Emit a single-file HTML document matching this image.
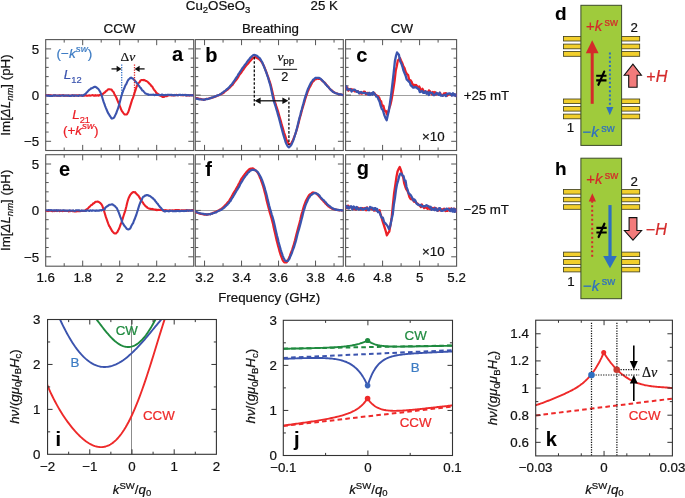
<!DOCTYPE html>
<html><head><meta charset="utf-8"><style>
html,body{margin:0;padding:0;background:#fff;}
body{width:685px;height:498px;overflow:hidden;}
svg{display:block;-webkit-font-smoothing:antialiased;will-change:transform;}
</style></head><body>
<svg width="685" height="498" viewBox="0 0 685 498">
<rect width="685" height="498" fill="#fff"/>
<path d="M45.7 95.5 H193.7" stroke="#a0a0a0" stroke-width="1"/>
<path d="M82.7 150.5 v-5.6 M82.7 39.6 v5.6" stroke="#555" stroke-width="1"/>
<path d="M119.7 150.5 v-5.6 M119.7 39.6 v5.6" stroke="#555" stroke-width="1"/>
<path d="M156.7 150.5 v-5.6 M156.7 39.6 v5.6" stroke="#555" stroke-width="1"/>
<path d="M64.2 150.5 v-3 M64.2 39.6 v3" stroke="#555" stroke-width="1"/>
<path d="M101.2 150.5 v-3 M101.2 39.6 v3" stroke="#555" stroke-width="1"/>
<path d="M138.2 150.5 v-3 M138.2 39.6 v3" stroke="#555" stroke-width="1"/>
<path d="M175.2 150.5 v-3 M175.2 39.6 v3" stroke="#555" stroke-width="1"/>
<path d="M45.7 48.9 h5.4 M193.7 48.9 h-5.4" stroke="#555" stroke-width="1"/>
<path d="M45.7 95.1 h5.4 M193.7 95.1 h-5.4" stroke="#555" stroke-width="1"/>
<path d="M45.7 141.3 h5.4 M193.7 141.3 h-5.4" stroke="#555" stroke-width="1"/>
<path d="M45.7 132.06 h3 M193.7 132.06 h-3" stroke="#555" stroke-width="1"/>
<path d="M45.7 122.82 h3 M193.7 122.82 h-3" stroke="#555" stroke-width="1"/>
<path d="M45.7 113.58 h3 M193.7 113.58 h-3" stroke="#555" stroke-width="1"/>
<path d="M45.7 104.34 h3 M193.7 104.34 h-3" stroke="#555" stroke-width="1"/>
<path d="M45.7 85.86 h3 M193.7 85.86 h-3" stroke="#555" stroke-width="1"/>
<path d="M45.7 76.62 h3 M193.7 76.62 h-3" stroke="#555" stroke-width="1"/>
<path d="M45.7 67.38 h3 M193.7 67.38 h-3" stroke="#555" stroke-width="1"/>
<path d="M45.7 58.14 h3 M193.7 58.14 h-3" stroke="#555" stroke-width="1"/>
<rect x="45.7" y="39.6" width="148" height="110.9" fill="none" stroke="#555" stroke-width="1.1"/>
<path d="M195.3 95.5 H343.3" stroke="#a0a0a0" stroke-width="1"/>
<path d="M204.55 150.5 v-5.6 M204.55 39.6 v5.6" stroke="#555" stroke-width="1"/>
<path d="M241.55 150.5 v-5.6 M241.55 39.6 v5.6" stroke="#555" stroke-width="1"/>
<path d="M278.55 150.5 v-5.6 M278.55 39.6 v5.6" stroke="#555" stroke-width="1"/>
<path d="M315.55 150.5 v-5.6 M315.55 39.6 v5.6" stroke="#555" stroke-width="1"/>
<path d="M223.05 150.5 v-3 M223.05 39.6 v3" stroke="#555" stroke-width="1"/>
<path d="M260.05 150.5 v-3 M260.05 39.6 v3" stroke="#555" stroke-width="1"/>
<path d="M297.05 150.5 v-3 M297.05 39.6 v3" stroke="#555" stroke-width="1"/>
<path d="M334.05 150.5 v-3 M334.05 39.6 v3" stroke="#555" stroke-width="1"/>
<path d="M195.3 48.9 h5.4 M343.3 48.9 h-5.4" stroke="#555" stroke-width="1"/>
<path d="M195.3 95.1 h5.4 M343.3 95.1 h-5.4" stroke="#555" stroke-width="1"/>
<path d="M195.3 141.3 h5.4 M343.3 141.3 h-5.4" stroke="#555" stroke-width="1"/>
<path d="M195.3 132.06 h3 M343.3 132.06 h-3" stroke="#555" stroke-width="1"/>
<path d="M195.3 122.82 h3 M343.3 122.82 h-3" stroke="#555" stroke-width="1"/>
<path d="M195.3 113.58 h3 M343.3 113.58 h-3" stroke="#555" stroke-width="1"/>
<path d="M195.3 104.34 h3 M343.3 104.34 h-3" stroke="#555" stroke-width="1"/>
<path d="M195.3 85.86 h3 M343.3 85.86 h-3" stroke="#555" stroke-width="1"/>
<path d="M195.3 76.62 h3 M343.3 76.62 h-3" stroke="#555" stroke-width="1"/>
<path d="M195.3 67.38 h3 M343.3 67.38 h-3" stroke="#555" stroke-width="1"/>
<path d="M195.3 58.14 h3 M343.3 58.14 h-3" stroke="#555" stroke-width="1"/>
<rect x="195.3" y="39.6" width="148" height="110.9" fill="none" stroke="#555" stroke-width="1.1"/>
<path d="M345.6 95.5 H456.6" stroke="#a0a0a0" stroke-width="1"/>
<path d="M382.6 150.5 v-5.6 M382.6 39.6 v5.6" stroke="#555" stroke-width="1"/>
<path d="M419.6 150.5 v-5.6 M419.6 39.6 v5.6" stroke="#555" stroke-width="1"/>
<path d="M364.1 150.5 v-3 M364.1 39.6 v3" stroke="#555" stroke-width="1"/>
<path d="M401.1 150.5 v-3 M401.1 39.6 v3" stroke="#555" stroke-width="1"/>
<path d="M438.1 150.5 v-3 M438.1 39.6 v3" stroke="#555" stroke-width="1"/>
<path d="M345.6 48.9 h5.4 M456.6 48.9 h-5.4" stroke="#555" stroke-width="1"/>
<path d="M345.6 95.1 h5.4 M456.6 95.1 h-5.4" stroke="#555" stroke-width="1"/>
<path d="M345.6 141.3 h5.4 M456.6 141.3 h-5.4" stroke="#555" stroke-width="1"/>
<path d="M345.6 132.06 h3 M456.6 132.06 h-3" stroke="#555" stroke-width="1"/>
<path d="M345.6 122.82 h3 M456.6 122.82 h-3" stroke="#555" stroke-width="1"/>
<path d="M345.6 113.58 h3 M456.6 113.58 h-3" stroke="#555" stroke-width="1"/>
<path d="M345.6 104.34 h3 M456.6 104.34 h-3" stroke="#555" stroke-width="1"/>
<path d="M345.6 85.86 h3 M456.6 85.86 h-3" stroke="#555" stroke-width="1"/>
<path d="M345.6 76.62 h3 M456.6 76.62 h-3" stroke="#555" stroke-width="1"/>
<path d="M345.6 67.38 h3 M456.6 67.38 h-3" stroke="#555" stroke-width="1"/>
<path d="M345.6 58.14 h3 M456.6 58.14 h-3" stroke="#555" stroke-width="1"/>
<rect x="345.6" y="39.6" width="111" height="110.9" fill="none" stroke="#555" stroke-width="1.1"/>
<path d="M45.7 210.5 H193.7" stroke="#a0a0a0" stroke-width="1"/>
<path d="M82.7 266.2 v-5.6 M82.7 154.7 v5.6" stroke="#555" stroke-width="1"/>
<path d="M119.7 266.2 v-5.6 M119.7 154.7 v5.6" stroke="#555" stroke-width="1"/>
<path d="M156.7 266.2 v-5.6 M156.7 154.7 v5.6" stroke="#555" stroke-width="1"/>
<path d="M64.2 266.2 v-3 M64.2 154.7 v3" stroke="#555" stroke-width="1"/>
<path d="M101.2 266.2 v-3 M101.2 154.7 v3" stroke="#555" stroke-width="1"/>
<path d="M138.2 266.2 v-3 M138.2 154.7 v3" stroke="#555" stroke-width="1"/>
<path d="M175.2 266.2 v-3 M175.2 154.7 v3" stroke="#555" stroke-width="1"/>
<path d="M45.7 164 h5.4 M193.7 164 h-5.4" stroke="#555" stroke-width="1"/>
<path d="M45.7 210.4 h5.4 M193.7 210.4 h-5.4" stroke="#555" stroke-width="1"/>
<path d="M45.7 256.8 h5.4 M193.7 256.8 h-5.4" stroke="#555" stroke-width="1"/>
<path d="M45.7 247.52 h3 M193.7 247.52 h-3" stroke="#555" stroke-width="1"/>
<path d="M45.7 238.24 h3 M193.7 238.24 h-3" stroke="#555" stroke-width="1"/>
<path d="M45.7 228.96 h3 M193.7 228.96 h-3" stroke="#555" stroke-width="1"/>
<path d="M45.7 219.68 h3 M193.7 219.68 h-3" stroke="#555" stroke-width="1"/>
<path d="M45.7 201.12 h3 M193.7 201.12 h-3" stroke="#555" stroke-width="1"/>
<path d="M45.7 191.84 h3 M193.7 191.84 h-3" stroke="#555" stroke-width="1"/>
<path d="M45.7 182.56 h3 M193.7 182.56 h-3" stroke="#555" stroke-width="1"/>
<path d="M45.7 173.28 h3 M193.7 173.28 h-3" stroke="#555" stroke-width="1"/>
<rect x="45.7" y="154.7" width="148" height="111.5" fill="none" stroke="#555" stroke-width="1.1"/>
<path d="M195.3 210.5 H343.3" stroke="#a0a0a0" stroke-width="1"/>
<path d="M204.55 266.2 v-5.6 M204.55 154.7 v5.6" stroke="#555" stroke-width="1"/>
<path d="M241.55 266.2 v-5.6 M241.55 154.7 v5.6" stroke="#555" stroke-width="1"/>
<path d="M278.55 266.2 v-5.6 M278.55 154.7 v5.6" stroke="#555" stroke-width="1"/>
<path d="M315.55 266.2 v-5.6 M315.55 154.7 v5.6" stroke="#555" stroke-width="1"/>
<path d="M223.05 266.2 v-3 M223.05 154.7 v3" stroke="#555" stroke-width="1"/>
<path d="M260.05 266.2 v-3 M260.05 154.7 v3" stroke="#555" stroke-width="1"/>
<path d="M297.05 266.2 v-3 M297.05 154.7 v3" stroke="#555" stroke-width="1"/>
<path d="M334.05 266.2 v-3 M334.05 154.7 v3" stroke="#555" stroke-width="1"/>
<path d="M195.3 164 h5.4 M343.3 164 h-5.4" stroke="#555" stroke-width="1"/>
<path d="M195.3 210.4 h5.4 M343.3 210.4 h-5.4" stroke="#555" stroke-width="1"/>
<path d="M195.3 256.8 h5.4 M343.3 256.8 h-5.4" stroke="#555" stroke-width="1"/>
<path d="M195.3 247.52 h3 M343.3 247.52 h-3" stroke="#555" stroke-width="1"/>
<path d="M195.3 238.24 h3 M343.3 238.24 h-3" stroke="#555" stroke-width="1"/>
<path d="M195.3 228.96 h3 M343.3 228.96 h-3" stroke="#555" stroke-width="1"/>
<path d="M195.3 219.68 h3 M343.3 219.68 h-3" stroke="#555" stroke-width="1"/>
<path d="M195.3 201.12 h3 M343.3 201.12 h-3" stroke="#555" stroke-width="1"/>
<path d="M195.3 191.84 h3 M343.3 191.84 h-3" stroke="#555" stroke-width="1"/>
<path d="M195.3 182.56 h3 M343.3 182.56 h-3" stroke="#555" stroke-width="1"/>
<path d="M195.3 173.28 h3 M343.3 173.28 h-3" stroke="#555" stroke-width="1"/>
<rect x="195.3" y="154.7" width="148" height="111.5" fill="none" stroke="#555" stroke-width="1.1"/>
<path d="M345.6 210.5 H456.6" stroke="#a0a0a0" stroke-width="1"/>
<path d="M382.6 266.2 v-5.6 M382.6 154.7 v5.6" stroke="#555" stroke-width="1"/>
<path d="M419.6 266.2 v-5.6 M419.6 154.7 v5.6" stroke="#555" stroke-width="1"/>
<path d="M364.1 266.2 v-3 M364.1 154.7 v3" stroke="#555" stroke-width="1"/>
<path d="M401.1 266.2 v-3 M401.1 154.7 v3" stroke="#555" stroke-width="1"/>
<path d="M438.1 266.2 v-3 M438.1 154.7 v3" stroke="#555" stroke-width="1"/>
<path d="M345.6 164 h5.4 M456.6 164 h-5.4" stroke="#555" stroke-width="1"/>
<path d="M345.6 210.4 h5.4 M456.6 210.4 h-5.4" stroke="#555" stroke-width="1"/>
<path d="M345.6 256.8 h5.4 M456.6 256.8 h-5.4" stroke="#555" stroke-width="1"/>
<path d="M345.6 247.52 h3 M456.6 247.52 h-3" stroke="#555" stroke-width="1"/>
<path d="M345.6 238.24 h3 M456.6 238.24 h-3" stroke="#555" stroke-width="1"/>
<path d="M345.6 228.96 h3 M456.6 228.96 h-3" stroke="#555" stroke-width="1"/>
<path d="M345.6 219.68 h3 M456.6 219.68 h-3" stroke="#555" stroke-width="1"/>
<path d="M345.6 201.12 h3 M456.6 201.12 h-3" stroke="#555" stroke-width="1"/>
<path d="M345.6 191.84 h3 M456.6 191.84 h-3" stroke="#555" stroke-width="1"/>
<path d="M345.6 182.56 h3 M456.6 182.56 h-3" stroke="#555" stroke-width="1"/>
<path d="M345.6 173.28 h3 M456.6 173.28 h-3" stroke="#555" stroke-width="1"/>
<rect x="345.6" y="154.7" width="111" height="111.5" fill="none" stroke="#555" stroke-width="1.1"/>
<defs>
<clipPath id="ca"><rect x="45.7" y="39.6" width="148" height="110.9"/></clipPath>
<clipPath id="cb"><rect x="195.3" y="39.6" width="148" height="110.9"/></clipPath>
<clipPath id="cc"><rect x="345.6" y="39.6" width="111" height="110.9"/></clipPath>
<clipPath id="ce"><rect x="45.7" y="154.7" width="148" height="111.5"/></clipPath>
<clipPath id="cf"><rect x="195.3" y="154.7" width="148" height="111.5"/></clipPath>
<clipPath id="cg"><rect x="345.6" y="154.7" width="111" height="111.5"/></clipPath>
</defs>
<path d="M45.7 95.22 L46.08 95.43 L46.5 95.31 L46.97 95.48 L47.47 95.5 L48.01 95.11 L48.59 95.07 L49.2 95.65 L49.84 95.25 L50.5 95.24 L51.2 95.78 L51.92 95.41 L52.65 95.67 L53.41 95.42 L54.19 95.54 L54.98 95.2 L55.78 95.55 L56.6 95.71 L57.42 95.48 L58.25 95.63 L59.09 95.59 L59.93 95.17 L60.76 95.66 L61.6 95.54 L62.43 95.34 L63.25 95.16 L64.06 95.74 L64.87 95.47 L65.66 95.65 L66.43 95.76 L67.19 95.65 L67.93 95.79 L68.64 95.43 L69.33 95.71 L70 95.46 L70.79 95.8 L71.58 95.76 L72.38 95.22 L73.17 95.24 L73.96 95.3 L74.75 95.82 L75.54 95.45 L76.32 95.58 L77.1 95.35 L77.87 95.49 L78.64 95.4 L79.4 95.37 L80.16 95.53 L80.9 95.53 L81.64 95.75 L82.36 95.59 L83.08 95.76 L83.78 95.7 L84.47 95.79 L85.15 95.56 L85.81 95.2 L86.46 95.68 L87.09 95.75 L87.71 95.7 L88.31 95.46 L88.89 95.56 L89.46 95.2 L90 95.63 L91.03 95.45 L91.99 95.25 L92.89 95.1 L93.73 95.67 L94.51 95.78 L95.24 95.16 L95.92 95.67 L96.57 95.4 L97.18 95.21 L97.77 95.29 L98.32 95.59 L98.86 95.62 L99.39 94.97 L99.9 95.28 L100.95 94.6 L101.76 94.69 L102.41 93.98 L103 93.87 L103.6 93.44 L104.3 92.6 L104.99 92.47 L105.71 91.43 L106.44 90.68 L107.18 90.47 L107.89 89.57 L108.57 89.3 L109.2 89.24 L110.17 89.39 L111.04 89.43 L111.83 89.95 L112.6 91.26 L113.53 92.01 L114.38 93.91 L115.3 95.68 L116.08 97.01 L116.91 99.02 L117.76 101.11 L118.6 103.2 L119.42 105.18 L120.24 107.23 L121.07 109.23 L121.9 111.11 L122.75 112.2 L123.62 113.35 L124.48 114.43 L125.3 114.52 L126.08 114.5 L126.84 114.48 L127.57 113.28 L128.3 112.03 L129.25 109.11 L130.18 106.15 L131.1 103.16 L131.99 100.19 L132.86 98.17 L133.8 95.49 L134.58 92.65 L135.41 90.34 L136.25 87.62 L137.1 85.63 L137.96 83.81 L138.84 82.84 L139.7 81.93 L140.5 80.67 L141.41 79.97 L142.24 80.06 L143.2 80.22 L143.9 79.84 L144.65 80.22 L145.45 80.66 L146.27 80.92 L147.1 81.5 L147.81 82.03 L148.55 82.73 L149.3 83.63 L150.05 84.21 L150.79 85.09 L151.5 86.19 L152.33 86.74 L153.15 88.3 L153.95 89.61 L154.7 90.42 L155.4 91.31 L156.33 92.86 L157.12 93.31 L158.1 94.08 L158.73 94.71 L159.44 95.39 L160.19 95.45 L160.97 96.03 L161.75 96.37 L162.5 96.93 L163.23 96.71 L163.96 96.92 L164.69 96.26 L165.43 96.16 L166.16 96.17 L166.9 96.17 L167.44 95.74 L167.73 95.44 L168.03 95.23 L168.58 95.4 L169.62 95.06 L171.4 95.41 L171.86 95.43 L172.38 94.96 L172.95 95.02 L173.57 95.38 L174.23 95.26 L174.93 95.37 L175.67 95.04 L176.44 94.89 L177.24 95 L178.06 95.35 L178.9 94.99 L179.76 95.04 L180.63 95.09 L181.51 95.1 L182.39 95.09 L183.27 95.45 L184.15 94.92 L185.02 94.82 L185.87 95.48 L186.71 95.44 L187.53 95.52 L188.32 95.13 L189.09 95.5 L189.82 95.49 L190.52 94.99 L191.17 95.36 L191.78 95.43 L192.35 95.31 L192.86 95.21 L193.31 95.05 L193.7 95.2" fill="none" stroke="#ec1f26" stroke-width="2.1" stroke-linejoin="round" stroke-linecap="round" clip-path="url(#ca)"/>
<path d="M45.7 95.49 L46.08 95.41 L46.52 95.3 L47 95.66 L47.53 95.45 L48.11 95.82 L48.72 95.28 L49.37 95.88 L50.05 95.73 L50.76 95.89 L51.5 95.87 L52.27 95.88 L53.06 95.65 L53.86 95.25 L54.69 95.77 L55.52 95.36 L56.37 95.45 L57.23 95.71 L58.08 95.61 L58.94 95.53 L59.8 95.9 L60.65 95.67 L61.5 95.48 L62.34 95.42 L63.16 95.85 L63.96 95.58 L64.75 95.79 L65.52 95.49 L66.26 95.38 L66.97 95.62 L67.65 95.82 L68.29 95.37 L68.9 95.8 L69.47 95.89 L70 95.81 L71.17 95.83 L72.23 95.27 L73.19 95.72 L74.06 95.9 L74.86 95.35 L75.58 95.53 L76.24 95.54 L76.86 95.74 L77.43 95.68 L77.97 95.72 L78.49 95.94 L78.99 95.39 L79.49 95.41 L80 95.44 L81.06 95.39 L81.88 95.3 L82.55 95.86 L83.14 95.64 L83.73 94.87 L84.4 94.8 L85.12 94.13 L85.83 93.42 L86.53 92.65 L87.25 92.02 L88 91.17 L88.8 90.3 L89.54 89.61 L90.34 89.11 L91.16 88.38 L92 88.15 L92.81 87.8 L93.59 87.22 L94.3 86.81 L95.2 86.84 L96.03 87.18 L96.8 87.72 L97.52 88.37 L98.2 88.72 L99.22 90.28 L100.11 91.78 L101 93.65 L101.86 96.06 L102.71 98.98 L103.7 102.14 L104.4 103.89 L105.15 106.19 L105.95 108.16 L106.77 110.03 L107.6 112.03 L108.32 113.51 L109.07 114.42 L109.84 115.91 L110.6 116.97 L111.32 118.1 L112 118.61 L112.9 118.25 L113.72 118.03 L114.5 116.89 L115.3 115.13 L116.12 113.54 L116.95 111.15 L117.77 109.21 L118.6 106.51 L119.4 103.84 L120.17 100.67 L120.99 97.42 L121.9 94.46 L122.6 92.41 L123.36 90.14 L124.16 88.57 L124.96 86.35 L125.72 84.79 L126.4 83.79 L127.3 81.53 L128.12 80.18 L128.85 79.13 L129.5 78.87 L130.45 77.69 L131.3 77.67 L131.99 78.4 L132.73 78.26 L133.6 79.44 L134.21 79.91 L134.87 80.73 L135.57 81.63 L136.32 82.28 L137.1 83.41 L137.8 83.8 L138.55 85.35 L139.33 86.26 L140.11 87.5 L140.88 88.11 L141.6 89.47 L142.42 90.57 L143.22 90.84 L143.99 91.81 L144.72 92.67 L145.4 93.43 L146.35 93.68 L147.19 94.01 L148.2 94.32 L148.42 94.69 L148.19 94.85 L148.01 94.63 L148.36 94.64 L149.72 94.68 L152.6 94.7 L153.01 94.75 L153.45 94.52 L153.92 94.82 L154.43 95.16 L154.96 94.77 L155.52 95.01 L156.11 94.61 L156.73 94.99 L157.36 95.04 L158.02 94.99 L158.71 94.89 L159.41 94.87 L160.14 94.99 L160.88 95.18 L161.64 94.66 L162.42 94.63 L163.21 95.1 L164.01 95.22 L164.83 94.95 L165.66 94.91 L166.5 95.11 L167.34 94.74 L168.2 94.81 L169.06 94.77 L169.93 95.05 L170.8 94.87 L171.67 94.82 L172.55 95.14 L173.43 95.34 L174.3 94.88 L175.17 95.18 L176.05 94.98 L176.91 95.3 L177.77 95.12 L178.63 94.9 L179.47 94.88 L180.31 94.75 L181.14 95.07 L181.96 95.01 L182.76 94.87 L183.55 95.01 L184.32 94.99 L185.08 95.31 L185.82 94.88 L186.55 95.48 L187.25 95.13 L187.93 95.22 L188.59 95.13 L189.23 95.39 L189.84 95.39 L190.42 95.21 L190.98 95.16 L191.51 95.33 L192.01 95.43 L192.48 95.12 L192.92 95.36 L193.33 95.52 L193.7 95.2" fill="none" stroke="#3b54ae" stroke-width="2.1" stroke-linejoin="round" stroke-linecap="round" clip-path="url(#ca)"/>
<path d="M45.7 210.78 L46.07 210.61 L46.48 210.62 L46.92 210.96 L47.4 210.94 L47.92 211.14 L48.47 211.08 L49.04 210.65 L49.65 210.63 L50.28 210.68 L50.94 210.64 L51.63 211.01 L52.33 211.13 L53.06 211.17 L53.81 210.73 L54.57 211.16 L55.35 210.79 L56.15 210.88 L56.96 211.1 L57.78 210.66 L58.61 210.68 L59.45 211.21 L60.3 210.84 L61.15 210.89 L62.01 211.06 L62.87 211.13 L63.73 210.67 L64.58 210.91 L65.44 210.99 L66.29 211.03 L67.13 210.85 L67.97 211.12 L68.8 211.38 L69.62 210.99 L70.43 211.1 L71.22 210.81 L72 210.92 L72.76 211.19 L73.5 210.81 L74.22 211.35 L74.92 211.36 L75.6 210.79 L76.25 211.38 L76.88 210.98 L77.48 211.25 L78.05 211.23 L78.59 210.9 L79.09 211.15 L79.56 211.12 L80 211.21 L81.96 210.74 L83.37 210.97 L84.33 210.98 L84.95 210.62 L85.34 210.34 L85.59 209.83 L85.81 209.86 L86.12 209.49 L86.6 209.45 L87.45 208.9 L88.19 208.21 L88.86 207.26 L89.53 206.88 L90.22 206.16 L91 205.18 L91.75 205.08 L92.57 204.26 L93.41 203.22 L94.26 203.15 L95.1 202.04 L95.88 201.74 L96.6 201.75 L97.49 201.59 L98.3 201.73 L99.04 202.16 L99.73 202.55 L100.4 203.07 L101.41 204.25 L102.31 205.82 L103.2 208.35 L104.09 211.03 L104.96 213.96 L105.9 217.17 L106.64 219.13 L107.41 221.32 L108.24 223.61 L109.2 226.06 L109.83 226.71 L110.54 228.33 L111.28 229.45 L112.04 231.04 L112.8 231.82 L113.53 232.65 L114.2 233.23 L115.06 233.56 L115.87 233.49 L116.64 232.59 L117.38 232.07 L118.1 230.53 L118.95 229.06 L119.75 226.97 L120.55 224.71 L121.4 222.7 L122.16 220.45 L122.98 217.61 L123.81 215.05 L124.6 212.68 L125.3 210.57 L126.21 207.04 L126.96 203.66 L127.8 200.56 L128.57 198.23 L129.4 196.56 L130.26 194.83 L131.1 193.82 L131.91 192.97 L132.72 192.17 L133.54 191.96 L134.4 192.4 L135.13 192.17 L135.88 193.25 L136.65 194.02 L137.43 194.9 L138.2 195.42 L138.97 196.6 L139.75 197.85 L140.54 199.21 L141.32 200.75 L142.1 201.73 L142.88 202.56 L143.66 204.03 L144.45 204.78 L145.23 205.78 L146 206.66 L146.75 206.79 L147.47 207.83 L148.2 208.16 L148.96 208.39 L149.8 208.72 L150.44 208.86 L151.09 208.82 L151.77 209.17 L152.48 208.91 L153.22 209.32 L153.99 209.51 L154.8 209.46 L155.32 209.63 L155.67 209.99 L155.93 210.03 L156.21 209.59 L156.62 210.13 L157.24 210.09 L158.18 209.77 L159.53 210.05 L161.4 210.01 L161.84 209.91 L162.32 210.25 L162.84 210.53 L163.39 210.11 L163.97 210.5 L164.58 210.39 L165.23 210 L165.9 210.52 L166.59 210.34 L167.31 210.58 L168.05 210.44 L168.81 210.46 L169.58 210.19 L170.38 210.52 L171.19 210.61 L172.01 210.57 L172.84 210.28 L173.68 210.5 L174.53 210.32 L175.38 210.06 L176.24 210.02 L177.1 210.04 L177.96 210.13 L178.82 210.11 L179.68 210.35 L180.53 210.49 L181.37 210.38 L182.2 210.31 L183.03 210.47 L183.84 210.23 L184.64 210.34 L185.42 210.55 L186.18 210.3 L186.93 210.15 L187.65 210.66 L188.35 210.53 L189.03 210.29 L189.68 210.29 L190.3 210.41 L190.89 210.46 L191.45 210.2 L191.97 210.04 L192.46 210.19 L192.91 210.59 L193.33 210.15 L193.7 210.4" fill="none" stroke="#ec1f26" stroke-width="2.1" stroke-linejoin="round" stroke-linecap="round" clip-path="url(#ce)"/>
<path d="M45.7 210.37 L46.07 210.19 L46.47 210.2 L46.9 210.18 L47.36 210.34 L47.85 210.18 L48.36 210.09 L48.91 210.15 L49.48 210.2 L50.07 210.43 L50.69 210.13 L51.32 210.11 L51.98 210.41 L52.66 210.39 L53.36 210.6 L54.07 210.15 L54.8 210.4 L55.54 210.41 L56.3 210.15 L57.07 210.82 L57.85 210.3 L58.64 210.22 L59.44 210.49 L60.25 210.28 L61.06 210.61 L61.88 210.42 L62.7 210.27 L63.53 210.23 L64.35 210.71 L65.18 210.39 L66.01 210.76 L66.83 210.54 L67.65 210.87 L68.47 210.43 L69.28 210.4 L70.09 210.42 L70.89 210.8 L71.68 210.68 L72.45 210.48 L73.22 210.31 L73.97 210.72 L74.71 210.93 L75.44 210.67 L76.15 210.26 L76.84 210.27 L77.52 210.32 L78.17 210.37 L78.8 210.28 L79.41 210.29 L80 210.71 L80.91 210.88 L81.81 210.39 L82.7 210.93 L83.59 210.58 L84.46 210.81 L85.33 210.89 L86.19 210.9 L87.03 210.27 L87.87 210.46 L88.69 210.67 L89.51 210.9 L90.31 210.3 L91.09 210.44 L91.86 210.83 L92.62 210.31 L93.36 210.49 L94.08 210.45 L94.78 210.68 L95.47 210.84 L96.14 210.3 L96.79 210.68 L97.42 210.66 L98.03 210.71 L98.62 210.49 L99.19 210.72 L99.74 210.3 L100.26 210.3 L100.76 210.14 L101.23 210.48 L101.68 210.23 L102.1 210.04 L104.21 209.48 L104.82 209.22 L104.9 208.4 L105.4 207.75 L106.04 207.08 L106.74 206.65 L107.49 205.9 L108.25 205.79 L109.01 204.86 L109.73 204.81 L110.4 204.78 L111.24 204.59 L112.03 204.22 L112.77 204.49 L113.49 205.22 L114.2 205.5 L115.07 206.33 L115.91 207.18 L116.72 207.95 L117.5 209.58 L118.45 211.75 L119.35 214.18 L120.3 216.91 L121.06 218.69 L121.83 220.95 L122.66 223.28 L123.6 224.42 L124.32 225.84 L125.11 226.62 L125.95 227.63 L126.79 228.9 L127.58 229.23 L128.3 229.38 L129.21 229.22 L130 228.71 L130.77 227.39 L131.6 225.46 L132.34 224.21 L133.12 223.09 L133.92 220.76 L134.72 219.06 L135.5 216.94 L136.26 215 L137.02 212.48 L137.78 210.14 L138.54 207.58 L139.3 205.18 L140.07 203.2 L140.85 201.24 L141.64 200.03 L142.42 198.03 L143.2 196.77 L143.98 196.58 L144.76 195.51 L145.55 195.69 L146.33 194.98 L147.1 195.18 L147.86 195.03 L148.59 195.61 L149.33 195.75 L150.1 196.17 L150.9 196.78 L151.62 197.41 L152.37 197.71 L153.15 198.65 L153.93 199.34 L154.68 199.92 L155.4 201.23 L156.21 202.05 L156.99 203.23 L157.75 203.85 L158.48 205.09 L159.2 205.97 L160.09 207.25 L160.95 207.82 L161.76 208.93 L162.5 209.79 L163.23 210.24 L163.84 211.06 L164.7 211.46 L165.09 211.3 L165.29 211.44 L165.56 211.34 L166.13 210.97 L167.27 210.97 L169.2 211.35 L169.64 210.87 L170.13 210.93 L170.67 210.68 L171.25 210.76 L171.86 210.71 L172.52 211.23 L173.21 211.08 L173.93 211.17 L174.68 211.24 L175.46 210.96 L176.25 211.17 L177.07 210.88 L177.89 210.78 L178.74 211.14 L179.59 211.1 L180.44 211.12 L181.3 210.78 L182.16 210.97 L183.02 210.7 L183.86 211.1 L184.7 211.03 L185.53 210.58 L186.34 211.02 L187.13 210.48 L187.9 210.41 L188.65 210.83 L189.36 210.52 L190.05 210.67 L190.7 210.74 L191.31 210.32 L191.88 210.8 L192.41 210.46 L192.89 210.57 L193.32 210.5 L193.7 210.6" fill="none" stroke="#3b54ae" stroke-width="2.1" stroke-linejoin="round" stroke-linecap="round" clip-path="url(#ce)"/>
<path d="M196 98.15 L196.44 98.25 L197.01 98.16 L197.68 98.24 L198.43 98.53 L199.24 98.78 L200.09 98.8 L200.95 99.01 L201.81 99.45 L202.63 99.51 L203.4 99.69 L204.13 99.66 L204.87 99.55 L205.6 99.2 L206.34 98.96 L207.07 98.88 L207.8 98.78 L208.53 98.63 L209.25 98.44 L209.98 98.15 L210.7 98.21 L211.43 97.72 L212.17 97.6 L212.91 97.59 L213.66 97.32 L214.4 96.82 L215.13 96.54 L215.84 96.57 L216.52 95.92 L217.18 95.73 L217.8 95.68 L218.6 95.35 L219.33 94.84 L219.99 94.47 L220.63 94.21 L221.28 94.13 L221.96 93.57 L222.7 93.36 L223.41 92.8 L224.15 92.41 L224.91 91.42 L225.69 90.94 L226.47 90.28 L227.26 89.87 L228.04 89.18 L228.8 88.36 L229.55 87.88 L230.31 86.89 L231.06 86.2 L231.81 85.34 L232.55 84.76 L233.28 83.7 L234 82.74 L234.7 81.74 L235.48 80.88 L236.25 79.89 L237 78.79 L237.74 77.79 L238.46 76.61 L239.18 75.24 L239.9 74.13 L240.73 73.25 L241.56 72.08 L242.37 70.79 L243.17 69.83 L243.95 68.63 L244.7 67.49 L245.56 66.32 L246.38 65.22 L247.17 64.58 L247.94 63.78 L248.7 62.89 L249.44 61.76 L250.17 60.95 L250.88 60.22 L251.56 59.4 L252.2 58.67 L253.14 57.85 L254 57.47 L254.9 57.14 L255.63 57.19 L256.37 57.63 L257.15 58.14 L258 58.46 L258.75 58.95 L259.57 59.59 L260.41 60.43 L261.23 61.52 L262 62.38 L262.87 64.14 L263.69 65.46 L264.48 67.41 L265.3 69.5 L266.16 71.58 L267.04 74.09 L267.9 76.43 L268.7 78.78 L269.65 81.48 L270.52 84.03 L271.4 87.48 L272.06 90.22 L272.7 93.15 L273.39 96.16 L274.2 99.55 L274.83 101.81 L275.53 103.62 L276.28 106.15 L277.03 108.29 L277.78 110.66 L278.5 113.16 L279.32 116.02 L280.14 118.77 L280.94 121.45 L281.72 124.65 L282.5 126.98 L283.27 129.7 L284.04 132.51 L284.79 134.72 L285.52 136.93 L286.2 139.17 L286.98 141.11 L287.69 142.34 L288.38 143.48 L289.1 144.04 L289.84 144.09 L290.58 143.81 L291.36 143.36 L292.2 141.57 L292.94 140.15 L293.74 138.26 L294.56 136.03 L295.39 133.88 L296.2 131.51 L297.01 128.84 L297.84 125.73 L298.66 122.7 L299.46 119.26 L300.2 116.63 L301.01 114.02 L301.73 110.95 L302.45 108.45 L303.3 105.68 L303.97 103.35 L304.69 101.07 L305.46 98.32 L306.23 95.95 L306.99 94.02 L307.7 91.61 L308.51 89.96 L309.3 87.83 L310.06 86.7 L310.79 85.17 L311.5 83.93 L312.33 82.36 L313.1 81.29 L313.85 80.81 L314.6 79.82 L315.35 79.24 L316.09 79.13 L316.84 78.88 L317.6 78.34 L318.36 78.8 L319.12 78.73 L319.93 78.96 L320.8 79.31 L321.59 80.02 L322.44 81.05 L323.32 81.52 L324.18 82.29 L325 83.11 L325.76 83.89 L326.49 84.81 L327.2 85.91 L327.9 86.28 L328.6 87.1 L329.43 88.38 L330.23 89.28 L331.06 90.1 L332 90.53 L332.68 91.11 L333.37 91.92 L334.11 92.18 L334.89 92.76 L335.75 93.01 L336.7 93.25 L337.36 93.63 L338.11 94.04 L338.93 94.26 L339.78 94.34 L340.64 94.46 L341.48 94.65 L342.26 94.75 L342.97 94.92 L343.55 95.18 L344 95.1" fill="none" stroke="#ec1f26" stroke-width="2.2" stroke-linejoin="round" stroke-linecap="round" clip-path="url(#cb)"/>
<path d="M195.3 98.05 L195.74 98.35 L196.31 98.67 L196.98 98.81 L197.73 98.68 L198.54 99.28 L199.39 99.41 L200.25 99.26 L201.11 99.45 L201.93 99.52 L202.7 99.48 L203.43 99.92 L204.17 99.56 L204.9 99.69 L205.64 99.17 L206.37 98.96 L207.1 99.2 L207.83 98.97 L208.55 98.86 L209.28 98.5 L210 98.21 L210.73 98.12 L211.47 97.56 L212.21 97.55 L212.96 97.25 L213.7 96.85 L214.43 96.81 L215.14 96.41 L215.82 96.23 L216.48 95.9 L217.1 95.61 L217.9 95.27 L218.63 95.05 L219.29 94.91 L219.93 94.53 L220.58 94.11 L221.26 93.67 L222 92.89 L222.71 92.75 L223.45 91.88 L224.21 91.26 L224.99 90.87 L225.77 90.37 L226.56 89.52 L227.34 88.99 L228.1 88.09 L228.85 87.67 L229.61 86.61 L230.36 85.77 L231.11 84.92 L231.85 84.19 L232.58 83.32 L233.3 82.16 L234 81.17 L234.78 80.15 L235.55 78.72 L236.3 77.72 L237.04 76.73 L237.76 75.51 L238.48 73.99 L239.2 73.28 L240.03 71.78 L240.86 70.83 L241.67 69.3 L242.47 68.05 L243.25 67.09 L244 66.19 L244.86 64.79 L245.68 63.92 L246.47 62.83 L247.24 61.68 L248 60.7 L248.74 59.84 L249.47 58.83 L250.18 57.9 L250.86 57.24 L251.5 56.69 L252.44 55.76 L253.3 55.09 L254.2 54.96 L254.93 55.08 L255.67 55.41 L256.45 55.55 L257.3 56.09 L258.05 56.81 L258.87 57.5 L259.71 58.2 L260.53 59.42 L261.3 60.71 L262.17 62.11 L262.99 64.03 L263.78 66.06 L264.6 68.17 L265.46 70.46 L266.34 72.65 L267.2 75.26 L268 77.41 L268.95 80.82 L269.82 83.57 L270.7 86.99 L271.36 90.1 L272 92.94 L272.69 96.18 L273.5 99.86 L274.13 102.03 L274.83 104.11 L275.57 106.47 L276.33 109.05 L277.08 111.31 L277.8 114.17 L278.62 116.84 L279.44 119.96 L280.24 123.09 L281.02 126.15 L281.8 128.97 L282.57 131.84 L283.34 134.6 L284.09 137.09 L284.82 139.29 L285.5 141.74 L286.28 143.65 L286.99 144.98 L287.68 146.32 L288.4 147.13 L289.14 147.38 L289.88 146.56 L290.66 145.66 L291.5 144.49 L292.24 142.88 L293.04 141.13 L293.86 138.8 L294.69 136.04 L295.5 133.46 L296.31 130.67 L297.14 127.63 L297.96 123.99 L298.76 120.87 L299.5 117.79 L300.31 114.95 L301.02 111.86 L301.75 109.56 L302.6 106.31 L303.27 103.99 L303.99 101.18 L304.76 98.61 L305.53 96.13 L306.29 93.9 L307 91.62 L307.81 89.34 L308.6 87.82 L309.36 86.03 L310.09 84.52 L310.8 83.05 L311.63 81.71 L312.4 80.92 L313.15 79.66 L313.9 79.12 L314.65 78.54 L315.39 77.96 L316.14 77.87 L316.9 77.8 L317.66 77.78 L318.43 77.88 L319.23 77.93 L320.1 78.38 L320.89 79.17 L321.74 79.88 L322.62 80.69 L323.48 81.92 L324.3 82.46 L325.06 83.6 L325.79 84.51 L326.5 84.96 L327.2 86.2 L327.9 86.75 L328.73 87.61 L329.53 88.52 L330.36 89.33 L331.3 90.4 L331.98 90.89 L332.67 91.67 L333.41 92.19 L334.19 92.3 L335.05 92.93 L336 93.34 L336.66 93.47 L337.41 93.73 L338.23 93.94 L339.08 94.35 L339.94 94.36 L340.78 94.41 L341.56 94.62 L342.27 94.86 L342.85 95.04 L343.3 95.1" fill="none" stroke="#3b54ae" stroke-width="2.2" stroke-linejoin="round" stroke-linecap="round" clip-path="url(#cb)"/>
<path d="M194 211.51 L194.48 211.92 L195.13 211.94 L195.9 212.47 L196.77 212.76 L197.72 212.85 L198.7 213.41 L199.32 213.38 L199.99 213.62 L200.69 213.82 L201.42 214 L202.17 214.07 L202.93 214.02 L203.69 214.5 L204.45 214.63 L205.18 214.5 L205.9 214.56 L206.67 214.37 L207.42 214.62 L208.17 214.41 L208.91 214.04 L209.65 214.17 L210.4 214.06 L211.15 213.52 L211.92 213.6 L212.7 213.07 L213.44 212.64 L214.2 212.6 L214.99 212.07 L215.79 211.91 L216.59 211.45 L217.38 210.82 L218.15 210.64 L218.88 210.4 L219.57 209.83 L220.2 209.49 L221.12 209.07 L221.93 208.31 L222.64 207.77 L223.32 207.23 L223.99 206.73 L224.7 205.72 L225.44 204.91 L226.17 204.46 L226.89 203.53 L227.62 202.51 L228.36 201.85 L229.1 200.81 L229.86 199.49 L230.63 198.45 L231.41 197.04 L232.19 195.64 L232.95 194.07 L233.7 192.65 L234.57 191.5 L235.43 190.08 L236.27 188.46 L237.09 187.1 L237.9 185.71 L238.68 184.1 L239.44 182.84 L240.19 181.32 L240.94 179.82 L241.7 178.38 L242.49 177.39 L243.29 176.12 L244.09 175.25 L244.87 173.97 L245.6 173.16 L246.43 172.03 L247.21 171.21 L247.95 170.51 L248.7 169.62 L249.46 169.08 L250.21 168.92 L250.95 168.54 L251.7 168.58 L252.44 168.43 L253.18 168.52 L253.93 169.04 L254.7 169.72 L255.5 170.37 L256.32 171.04 L257.15 172.04 L258 173.21 L258.69 174.6 L259.4 176.08 L260.11 178.01 L260.82 179.33 L261.5 181.58 L262.34 183.82 L263.16 186.5 L263.96 189.2 L264.7 192.3 L265.59 195.55 L266.4 199.38 L267.2 202.78 L268 205.71 L268.79 208.59 L269.6 211.88 L270.44 214.68 L271.3 217.58 L272.2 221 L272.91 223.59 L273.64 227.19 L274.37 230.59 L275.1 233.54 L275.81 236.67 L276.51 239.87 L277.2 242.39 L277.9 245.35 L278.61 247.73 L279.32 250.6 L280.02 252.84 L280.7 255.11 L281.58 257.46 L282.43 259.68 L283.2 261.1 L284.09 262.17 L285 262.51 L285.75 262.47 L286.6 262.4 L287.7 260.65 L288.31 259.56 L289 258 L289.76 256.06 L290.54 253.89 L291.31 251.89 L292.04 250.09 L292.7 247.95 L293.5 245.66 L294.22 242.94 L294.89 240.57 L295.54 237.94 L296.2 235.34 L297.05 232.01 L297.89 228.72 L298.71 225.9 L299.5 222.99 L300.24 220.1 L300.94 216.8 L301.62 213.97 L302.3 211.77 L303.19 208.55 L304.07 205.64 L305 203.21 L305.77 201.07 L306.58 199.54 L307.4 198.03 L308.2 196.65 L309 195.34 L309.8 194.46 L310.58 194.01 L311.3 193.6 L312.13 192.73 L312.88 192.45 L313.7 192.48 L314.37 192.88 L315.06 192.82 L315.82 193.18 L316.7 194.06 L317.39 194.52 L318.16 195.18 L318.98 196.34 L319.81 196.99 L320.63 198.09 L321.4 199.17 L322.25 199.83 L323.06 200.64 L323.85 201.73 L324.66 202.47 L325.5 203.63 L326.24 203.92 L327 205.01 L327.77 205.54 L328.55 206.46 L329.33 206.92 L330.1 207.6 L330.84 207.9 L331.53 208.26 L332.23 208.72 L332.97 209.2 L333.78 209.24 L334.7 209.44 L335.35 209.68 L336.1 209.65 L336.92 209.87 L337.78 210.11 L338.64 210.19 L339.48 210.3 L340.26 210.22 L340.96 210.16 L341.55 210.22 L342 210.5" fill="none" stroke="#ec1f26" stroke-width="2.2" stroke-linejoin="round" stroke-linecap="round" clip-path="url(#cf)"/>
<path d="M195.3 211.52 L195.78 211.63 L196.43 212.06 L197.2 212.21 L198.07 212.77 L199.02 212.99 L200 213.28 L200.62 213.47 L201.29 213.52 L201.99 213.63 L202.72 213.74 L203.47 213.77 L204.23 214.27 L204.99 214.24 L205.75 214.13 L206.48 214.6 L207.2 214.44 L207.97 214.43 L208.72 214.27 L209.47 214.02 L210.21 214.32 L210.95 213.74 L211.7 213.65 L212.45 213.75 L213.22 213.07 L214 213 L214.74 212.72 L215.5 212.31 L216.29 212.32 L217.09 211.71 L217.89 211.14 L218.68 210.99 L219.45 210.37 L220.18 210.34 L220.87 210.04 L221.5 209.7 L222.42 208.71 L223.23 208.48 L223.94 207.75 L224.62 207.27 L225.29 206.58 L226 205.9 L226.74 205.09 L227.47 204.57 L228.19 203.49 L228.92 203.07 L229.66 201.68 L230.4 201.13 L231.16 199.63 L231.93 198.35 L232.71 197.39 L233.49 195.97 L234.25 194.78 L235 193.4 L235.87 192.03 L236.73 190.35 L237.57 189.26 L238.39 187.79 L239.2 186.63 L239.98 184.74 L240.74 183.34 L241.49 182.22 L242.24 180.98 L243 179.46 L243.79 178.43 L244.59 177.24 L245.39 176.11 L246.17 175.17 L246.9 174.35 L247.73 173.06 L248.51 172.3 L249.25 171.75 L250 170.88 L250.76 170.49 L251.51 170.02 L252.25 169.83 L253 169.88 L253.74 169.93 L254.48 170.17 L255.23 170.21 L256 170.55 L256.8 171.27 L257.62 171.95 L258.45 173.08 L259.3 174.54 L259.99 175.8 L260.7 177.04 L261.41 178.58 L262.12 180.22 L262.8 182.04 L263.64 184.61 L264.46 187.11 L265.26 190.13 L266 192.63 L266.89 196.05 L267.7 199.63 L268.5 202.77 L269.3 206.11 L270.09 208.9 L270.9 211.53 L271.74 214.52 L272.6 217.14 L273.5 220.36 L274.21 223.27 L274.94 226.45 L275.68 229.93 L276.4 233.07 L277.11 236.04 L277.81 238.58 L278.5 241.68 L279.2 244.19 L279.91 246.74 L280.62 249.35 L281.32 251.68 L282 253.65 L282.88 256.1 L283.73 258.14 L284.5 259.61 L285.39 260.86 L286.3 260.75 L287.05 261.18 L287.9 260.89 L289 259.41 L289.61 258.35 L290.3 256.39 L291.06 254.93 L291.84 253.05 L292.61 250.65 L293.34 248.91 L294 247.22 L294.8 244.4 L295.52 242.17 L296.19 239.68 L296.84 236.94 L297.5 234.32 L298.35 231.3 L299.19 228.57 L300.01 225.38 L300.8 222.41 L301.54 219.59 L302.24 216.98 L302.92 213.91 L303.6 211.26 L304.49 208.71 L305.37 205.7 L306.3 203.24 L307.07 201.75 L307.88 199.72 L308.7 198.1 L309.5 197.19 L310.3 195.82 L311.1 194.96 L311.88 194.65 L312.6 193.76 L313.43 193.62 L314.18 193.13 L315 193.1 L315.67 193.11 L316.36 193.41 L317.12 193.73 L318 194.25 L318.69 194.93 L319.46 195.64 L320.28 196.83 L321.11 197.84 L321.93 198.68 L322.7 199.56 L323.55 200.09 L324.36 201.03 L325.15 201.83 L325.96 202.61 L326.8 203.83 L327.54 204.5 L328.3 205.23 L329.07 205.77 L329.85 206.23 L330.63 207.01 L331.4 207.38 L332.14 208.26 L332.83 208.34 L333.53 208.69 L334.27 209.31 L335.08 209.2 L336 209.81 L336.65 209.64 L337.4 209.95 L338.22 209.78 L339.08 210.28 L339.94 210.12 L340.78 210.18 L341.56 210.41 L342.26 210.44 L342.85 210.33 L343.3 210.5" fill="none" stroke="#3b54ae" stroke-width="2.2" stroke-linejoin="round" stroke-linecap="round" clip-path="url(#cf)"/>
<path d="M345.6 87.22 L346.28 88.97 L347.2 87.4 L348.3 90.64 L349.51 89.23 L350.77 89.02 L352 89.91 L352.91 89.44 L353.84 90.4 L354.79 91.44 L355.77 91.24 L356.78 91.25 L357.82 91.35 L358.89 92.25 L360 93.45 L360.93 92.43 L361.9 93.66 L362.92 92.78 L363.95 91.63 L365 91.88 L366.05 94.26 L367.08 93.1 L368.1 92.89 L369.07 93.48 L370 94.78 L371.12 93.41 L372.23 93.59 L373.32 93.84 L374.37 92.9 L375.37 95.04 L376.32 95.22 L377.2 95.77 L378 96.24 L379.28 97.94 L380.25 100.81 L381.12 101.23 L382.1 106.14 L383.31 105.64 L384.61 110.9 L385.85 110.88 L386.9 114.3 L388.2 112.04 L389.3 107.87 L390.31 105.15 L391.4 100.52 L392.5 94.37 L393.57 87.6 L394.63 80.53 L395.7 70.78 L396.76 66.19 L397.83 60.38 L398.9 59.57 L399.94 58.03 L400.99 60.39 L402.2 62.91 L403.29 66.03 L404.51 68.1 L405.76 72.13 L407 74.06 L408.16 75.19 L409.3 80.58 L410.49 80.24 L411.8 82.19 L412.76 85.72 L413.76 84.62 L414.81 86.53 L415.9 84.9 L417.03 86.04 L418.2 88.33 L419.22 86.57 L420.26 88.73 L421.33 90.73 L422.43 88.8 L423.57 90.97 L424.76 91.59 L426 91.61 L426.91 92.39 L427.86 92.44 L428.84 90.38 L429.84 91.24 L430.86 92.65 L431.89 94.35 L432.93 92 L433.96 93.45 L434.99 92.07 L436 94.68 L437 93.46 L437.99 93.84 L438.98 94.44 L439.97 92.71 L440.96 94.79 L441.96 95.09 L442.96 95.35 L443.96 93.44 L444.98 93.34 L446 93.16 L447.08 95.72 L448.25 94.22 L449.47 94.11 L450.71 94.62 L451.93 95.27 L453.09 94.03 L454.18 94.14 L455.15 95.64 L455.97 95.71 L456.6 94.8" fill="none" stroke="#ec1f26" stroke-width="2.3" stroke-linejoin="round" stroke-linecap="round" clip-path="url(#cc)"/>
<path d="M345.6 86.81 L346.23 86.32 L347.07 89.59 L348.07 89.36 L349.19 89.38 L350.36 89.23 L351.56 91.58 L352.72 90.22 L353.8 89.84 L354.83 89.71 L355.85 90.79 L356.88 91.83 L357.91 91.19 L358.94 93.32 L359.96 92.46 L360.98 91.97 L362 92.85 L363.04 92.86 L364.13 93.16 L365.23 93 L366.31 93.35 L367.36 93.48 L368.34 94.84 L369.23 92.84 L370 94.97 L371.42 93.23 L372.31 94.79 L373.2 92.15 L374.27 93.97 L375.33 94.57 L376.4 96.72 L377.46 96.88 L378.53 99.48 L379.6 101.65 L380.71 105.95 L381.84 109.05 L382.9 110 L384.32 115.18 L385.6 118.28 L386.67 120.33 L387.7 115.55 L388.88 110.6 L390.1 102.18 L391.3 93.4 L392.5 83.06 L393.72 72.26 L394.9 61 L395.98 55.95 L397 52.46 L398.9 54.75 L400.07 60.97 L401.4 63.68 L402.41 66.53 L403.51 70.67 L404.6 73.39 L405.64 75.68 L406.67 79.33 L407.8 80.46 L408.72 81.56 L409.7 82.26 L410.73 85.42 L411.8 86.04 L412.92 87.54 L414.09 87.54 L415.32 86.93 L416.6 87.63 L417.65 88.59 L418.72 88.95 L419.83 92.09 L421.02 91.7 L422.3 91.01 L423.3 92.91 L424.35 92.92 L425.46 91.23 L426.6 93.8 L427.74 92.23 L428.88 95.02 L430 92.28 L431.09 92.91 L432.18 92.9 L433.27 95.07 L434.36 94.99 L435.46 94.24 L436.57 92.84 L437.7 93.86 L438.69 94.85 L439.68 92.72 L440.67 95.7 L441.67 95.49 L442.69 95.84 L443.75 95.09 L444.85 94.86 L446 96.12 L447.01 93.74 L448.14 93.89 L449.34 93.3 L450.58 93.52 L451.82 95.64 L453.01 93.27 L454.13 95.49 L455.12 94.32 L455.96 95.97 L456.6 94.7" fill="none" stroke="#3b54ae" stroke-width="2.3" stroke-linejoin="round" stroke-linecap="round" clip-path="url(#cc)"/>
<path d="M345.6 207.78 L346.22 207.6 L347 208.22 L347.93 205.59 L348.98 206.46 L350.11 206.93 L351.29 207.27 L352.5 208.21 L353.71 209.05 L354.88 208.7 L356 209.46 L356.98 208.77 L357.98 207.72 L358.98 208.34 L359.99 209.26 L361.01 209.59 L362.03 208.18 L363.05 208.24 L364.07 209.22 L365.08 208 L366.1 210.32 L367.1 207.4 L368.23 209.66 L369.4 209.1 L370.6 208.07 L371.8 209.29 L372.99 208.92 L374.14 210.58 L375.24 210.37 L376.26 209.49 L377.19 210.69 L378 211.1 L379.54 210.13 L380.58 214.41 L381.35 216.73 L382.1 219.57 L383.41 223.63 L384.5 227.13 L385.7 231.01 L386.9 235.32 L388.1 233.12 L389.3 231.57 L390.5 224.9 L391.7 217.41 L392.9 204.77 L394.1 193.13 L395.25 185.48 L396.5 176.65 L397.53 171.47 L398.66 168.85 L399.7 166.98 L400.95 170.08 L402.2 174.56 L403.19 177.24 L404.25 183.5 L405.4 187.01 L406.31 189.37 L407.25 190.55 L408.27 192.9 L409.4 196.99 L410.43 198.77 L411.55 199.43 L412.73 198.99 L413.89 201.66 L415 201.88 L415.98 202.17 L416.86 203.56 L417.75 203.68 L418.76 204.92 L420 205.86 L420.91 207.04 L421.9 204.48 L422.96 206.45 L424.07 208.12 L425.23 207.53 L426.43 207.63 L427.66 208.9 L428.9 206.41 L429.81 209.19 L430.71 208.79 L431.62 208.83 L432.54 208.05 L433.49 209.23 L434.46 207.68 L435.47 209.16 L436.52 208.37 L437.62 210.76 L438.78 210.44 L440 209.41 L440.92 210.43 L441.93 209.24 L443.01 209.77 L444.15 208.6 L445.34 211.02 L446.55 210.75 L447.78 210.78 L448.99 208.53 L450.19 211.07 L451.35 208.36 L452.45 210.28 L453.49 210.05 L454.44 208.62 L455.28 209.89 L456.01 211.49 L456.6 210.2" fill="none" stroke="#ec1f26" stroke-width="2.3" stroke-linejoin="round" stroke-linecap="round" clip-path="url(#cg)"/>
<path d="M345.6 207.02 L346.2 206.08 L346.96 207.92 L347.84 206.54 L348.84 208.57 L349.93 207.09 L351.08 206.2 L352.29 209.44 L353.52 206.56 L354.77 207.34 L356 209.22 L356.9 207.05 L357.86 208.55 L358.87 209.65 L359.91 208.74 L360.98 207.92 L362.06 209.31 L363.15 209.54 L364.23 208.7 L365.3 208.86 L366.33 207.83 L367.33 208.13 L368.28 210.15 L369.18 210.13 L370 206.91 L371.31 207.69 L372.49 207.9 L373.58 209.95 L374.57 208.09 L375.49 208.2 L376.36 210.54 L377.19 208.92 L378 212.22 L379.48 212.08 L380.75 215.73 L381.87 217.74 L382.9 217.7 L384.1 222.05 L385.12 222.98 L386.1 224.16 L387.58 226.11 L389 228.99 L390.33 225.61 L391.7 218.83 L392.73 214.5 L393.81 204.87 L394.9 198.41 L395.96 190.11 L397.03 184.09 L398.1 180.61 L399.2 176.27 L400.3 173.67 L401.4 173.6 L402.44 175.58 L403.48 175.99 L404.6 180.62 L405.52 180.58 L406.5 186.8 L407.53 189.54 L408.6 193.3 L409.7 194.14 L410.84 195.29 L412.05 197.48 L413.4 200.63 L414.37 199.49 L415.38 200.53 L416.44 203.45 L417.56 204.34 L418.75 204.83 L420 205.35 L420.99 204.85 L422.01 206.41 L423.07 206.26 L424.17 206.23 L425.3 206.22 L426.47 205.26 L427.67 205.86 L428.9 206.75 L429.81 207.69 L430.71 206.75 L431.62 209.83 L432.54 208.67 L433.49 209.39 L434.46 210.06 L435.47 207.94 L436.52 210.32 L437.62 210.7 L438.78 208.48 L440 208.13 L440.92 210.51 L441.93 210.9 L443.01 210.67 L444.15 209.42 L445.34 210.15 L446.55 208.56 L447.78 209.04 L448.99 209.74 L450.19 210.91 L451.35 208.74 L452.45 211.64 L453.49 208.64 L454.44 211.88 L455.28 209.43 L456.01 211.45 L456.6 210.4" fill="none" stroke="#3b54ae" stroke-width="2.3" stroke-linejoin="round" stroke-linecap="round" clip-path="url(#cg)"/>
<path d="M121.7 64.5 V95" stroke="#2f6fc8" stroke-width="1.3" stroke-dasharray="1.2 1.3"/>
<path d="M134.5 64.5 V95" stroke="#e02020" stroke-width="1.3" stroke-dasharray="1.2 1.3"/>
<path d="M111.5 68.9 H118.6" stroke="#111" stroke-width="1.3"/>
<path d="M121.6 68.9 L116.6 65.7 L116.6 72.1 Z" fill="#111"/>
<path d="M144.6 68.9 H137.6" stroke="#111" stroke-width="1.3"/>
<path d="M134.6 68.9 L139.6 65.7 L139.6 72.1 Z" fill="#111"/>
<text x="120.6" y="61" font-size="13.5" text-anchor="start" fill="#111" stroke="#111" stroke-width="0.22" font-family="Liberation Serif" font-weight="normal" font-style="normal" >&#916;<tspan font-style="italic">&#957;</tspan></text>
<text x="171.9" y="61.3" font-size="20" text-anchor="start" fill="#000" stroke="#000" stroke-width="0.1" font-family="Liberation Sans" font-weight="bold" font-style="normal" >a</text>
<text x="205.2" y="62.2" font-size="20" text-anchor="start" fill="#000" stroke="#000" stroke-width="0.1" font-family="Liberation Sans" font-weight="bold" font-style="normal" >b</text>
<text x="356.3" y="61.7" font-size="20" text-anchor="start" fill="#000" stroke="#000" stroke-width="0.1" font-family="Liberation Sans" font-weight="bold" font-style="normal" >c</text>
<text x="59.1" y="175.9" font-size="20" text-anchor="start" fill="#000" stroke="#000" stroke-width="0.1" font-family="Liberation Sans" font-weight="bold" font-style="normal" >e</text>
<text x="205.3" y="176.1" font-size="20" text-anchor="start" fill="#000" stroke="#000" stroke-width="0.1" font-family="Liberation Sans" font-weight="bold" font-style="normal" >f</text>
<text x="356.8" y="174.6" font-size="20" text-anchor="start" fill="#000" stroke="#000" stroke-width="0.1" font-family="Liberation Sans" font-weight="bold" font-style="normal" >g</text>
<text x="56.6" y="58.3" font-size="13.5" text-anchor="start" fill="#3d7cc4" stroke="#3d7cc4" stroke-width="0.22" font-family="Liberation Sans" font-weight="normal" font-style="normal" >(&#8722;<tspan font-style="italic">k</tspan><tspan font-size="9.8" dy="-6.2" font-style="italic">sw</tspan><tspan dy="6.2">)</tspan></text>
<text x="63.8" y="79.4" font-size="13.5" text-anchor="start" fill="#3b54ae" stroke="#3b54ae" stroke-width="0.22" font-family="Liberation Sans" font-weight="normal" font-style="normal" ><tspan font-style="italic">L</tspan><tspan font-size="9.3" dy="3.9">12</tspan></text>
<text x="72.2" y="118.7" font-size="13.5" text-anchor="start" fill="#ec1f26" stroke="#ec1f26" stroke-width="0.22" font-family="Liberation Sans" font-weight="normal" font-style="normal" ><tspan font-style="italic">L</tspan><tspan font-size="9.3" dy="3.9">21</tspan></text>
<text x="62.9" y="134.7" font-size="13.5" text-anchor="start" fill="#ec1f26" stroke="#ec1f26" stroke-width="0.22" font-family="Liberation Sans" font-weight="normal" font-style="normal" >(+<tspan font-style="italic">k</tspan><tspan font-size="9.8" dy="-6.2" font-style="italic">sw</tspan><tspan dy="6.2">)</tspan></text>
<path d="M254.3 57 V106.5" stroke="#111" stroke-width="1.3" stroke-dasharray="2.6 1.6"/>
<path d="M288.9 97.5 V145" stroke="#111" stroke-width="1.3" stroke-dasharray="2.6 1.6"/>
<path d="M259 100.8 H284" stroke="#111" stroke-width="1.3"/>
<path d="M254.6 100.8 L260.6 97.6 L260.6 104 Z" fill="#111"/>
<path d="M288.4 100.8 L282.4 97.6 L282.4 104 Z" fill="#111"/>
<text x="277.4" y="61.1" font-size="13.5" text-anchor="start" fill="#111" stroke="#111" stroke-width="0.22" font-family="Liberation Serif" font-weight="normal" font-style="italic" >&#957;</text>
<text x="283.2" y="64.4" font-size="9.8" text-anchor="start" fill="#111" stroke="#111" stroke-width="0.22" font-family="Liberation Sans" font-weight="normal" font-style="normal" >pp</text>
<path d="M273.2 69.3 H297.1" stroke="#111" stroke-width="1"/>
<text x="281.3" y="81.4" font-size="12.6" text-anchor="start" fill="#111" stroke="#111" stroke-width="0.22" font-family="Liberation Sans" font-weight="normal" font-style="normal" >2</text>
<text x="422" y="141.1" font-size="13.3" text-anchor="start" fill="#111" stroke="#111" stroke-width="0.22" font-family="Liberation Sans" font-weight="normal" font-style="normal" >&#215;10</text>
<text x="422" y="256.1" font-size="13.3" text-anchor="start" fill="#111" stroke="#111" stroke-width="0.22" font-family="Liberation Sans" font-weight="normal" font-style="normal" >&#215;10</text>
<text x="103.6" y="33.3" font-size="13.3" text-anchor="start" fill="#111" stroke="#111" stroke-width="0.22" font-family="Liberation Sans" font-weight="normal" font-style="normal" >CCW</text>
<text x="242" y="33.3" font-size="13.3" text-anchor="start" fill="#111" stroke="#111" stroke-width="0.22" font-family="Liberation Sans" font-weight="normal" font-style="normal" >Breathing</text>
<text x="390.8" y="33.3" font-size="13.3" text-anchor="start" fill="#111" stroke="#111" stroke-width="0.22" font-family="Liberation Sans" font-weight="normal" font-style="normal" >CW</text>
<text x="185.8" y="10.1" font-size="13.3" text-anchor="start" fill="#111" stroke="#111" stroke-width="0.22" font-family="Liberation Sans" font-weight="normal" font-style="normal" >Cu<tspan font-size="9.5" dy="3">2</tspan><tspan dy="-3">OSeO</tspan><tspan font-size="9.5" dy="3">3</tspan></text>
<text x="310.6" y="10.1" font-size="13.3" text-anchor="start" fill="#111" stroke="#111" stroke-width="0.22" font-family="Liberation Sans" font-weight="normal" font-style="normal" >25 K</text>
<text x="463.8" y="99.6" font-size="13.3" text-anchor="start" fill="#111" stroke="#111" stroke-width="0.22" font-family="Liberation Sans" font-weight="normal" font-style="normal" >+25 mT</text>
<text x="463.5" y="214.4" font-size="13.3" text-anchor="start" fill="#111" stroke="#111" stroke-width="0.22" font-family="Liberation Sans" font-weight="normal" font-style="normal" >&#8722;25 mT</text>
<text x="39.2" y="53.6" font-size="13.3" text-anchor="end" fill="#111" stroke="#111" stroke-width="0.22" font-family="Liberation Sans" font-weight="normal" font-style="normal" >5</text>
<text x="39.2" y="99.8" font-size="13.3" text-anchor="end" fill="#111" stroke="#111" stroke-width="0.22" font-family="Liberation Sans" font-weight="normal" font-style="normal" >0</text>
<text x="39.2" y="146" font-size="13.3" text-anchor="end" fill="#111" stroke="#111" stroke-width="0.22" font-family="Liberation Sans" font-weight="normal" font-style="normal" >&#8722;5</text>
<text x="39.2" y="168.7" font-size="13.3" text-anchor="end" fill="#111" stroke="#111" stroke-width="0.22" font-family="Liberation Sans" font-weight="normal" font-style="normal" >5</text>
<text x="39.2" y="215.1" font-size="13.3" text-anchor="end" fill="#111" stroke="#111" stroke-width="0.22" font-family="Liberation Sans" font-weight="normal" font-style="normal" >0</text>
<text x="39.2" y="261.5" font-size="13.3" text-anchor="end" fill="#111" stroke="#111" stroke-width="0.22" font-family="Liberation Sans" font-weight="normal" font-style="normal" >&#8722;5</text>
<text x="0" y="0" font-size="13.3" text-anchor="middle" fill="#111" stroke="#111" stroke-width="0.22" font-family="Liberation Sans" transform="translate(10.2 95) rotate(-90)">Im[<tspan font-style="italic">&#916;L</tspan><tspan font-size="9.5" dy="2.5" font-style="italic">nm</tspan><tspan dy="-2.5">] (pH)</tspan></text>
<text x="0" y="0" font-size="13.3" text-anchor="middle" fill="#111" stroke="#111" stroke-width="0.22" font-family="Liberation Sans" transform="translate(10.2 210.3) rotate(-90)">Im[<tspan font-style="italic">&#916;L</tspan><tspan font-size="9.5" dy="2.5" font-style="italic">nm</tspan><tspan dy="-2.5">] (pH)</tspan></text>
<text x="45.7" y="282.2" font-size="13.3" text-anchor="middle" fill="#111" stroke="#111" stroke-width="0.22" font-family="Liberation Sans" font-weight="normal" font-style="normal" >1.6</text>
<text x="82.7" y="282.2" font-size="13.3" text-anchor="middle" fill="#111" stroke="#111" stroke-width="0.22" font-family="Liberation Sans" font-weight="normal" font-style="normal" >1.8</text>
<text x="119.7" y="282.2" font-size="13.3" text-anchor="middle" fill="#111" stroke="#111" stroke-width="0.22" font-family="Liberation Sans" font-weight="normal" font-style="normal" >2</text>
<text x="156.7" y="282.2" font-size="13.3" text-anchor="middle" fill="#111" stroke="#111" stroke-width="0.22" font-family="Liberation Sans" font-weight="normal" font-style="normal" >2.2</text>
<text x="204.55" y="282.2" font-size="13.3" text-anchor="middle" fill="#111" stroke="#111" stroke-width="0.22" font-family="Liberation Sans" font-weight="normal" font-style="normal" >3.2</text>
<text x="241.55" y="282.2" font-size="13.3" text-anchor="middle" fill="#111" stroke="#111" stroke-width="0.22" font-family="Liberation Sans" font-weight="normal" font-style="normal" >3.4</text>
<text x="278.55" y="282.2" font-size="13.3" text-anchor="middle" fill="#111" stroke="#111" stroke-width="0.22" font-family="Liberation Sans" font-weight="normal" font-style="normal" >3.6</text>
<text x="315.55" y="282.2" font-size="13.3" text-anchor="middle" fill="#111" stroke="#111" stroke-width="0.22" font-family="Liberation Sans" font-weight="normal" font-style="normal" >3.8</text>
<text x="345.6" y="282.2" font-size="13.3" text-anchor="middle" fill="#111" stroke="#111" stroke-width="0.22" font-family="Liberation Sans" font-weight="normal" font-style="normal" >4.6</text>
<text x="382.6" y="282.2" font-size="13.3" text-anchor="middle" fill="#111" stroke="#111" stroke-width="0.22" font-family="Liberation Sans" font-weight="normal" font-style="normal" >4.8</text>
<text x="419.6" y="282.2" font-size="13.3" text-anchor="middle" fill="#111" stroke="#111" stroke-width="0.22" font-family="Liberation Sans" font-weight="normal" font-style="normal" >5</text>
<text x="456.6" y="282.2" font-size="13.3" text-anchor="middle" fill="#111" stroke="#111" stroke-width="0.22" font-family="Liberation Sans" font-weight="normal" font-style="normal" >5.2</text>
<text x="269.2" y="301.6" font-size="13.3" text-anchor="middle" fill="#111" stroke="#111" stroke-width="0.22" font-family="Liberation Sans" font-weight="normal" font-style="normal" >Frequency (GHz)</text>
<path d="M131.5 319.51 V454.3" stroke="#8c8c8c" stroke-width="1"/>
<defs><clipPath id="ci"><rect x="47.56" y="319.51" width="168.84" height="134.79"/></clipPath><clipPath id="cj"><rect x="283.3" y="320.3" width="169.2" height="135.2"/></clipPath><clipPath id="ck"><rect x="535.7" y="320.2" width="136.7" height="135.7"/></clipPath></defs>
<path d="M46 381.88 L47.53 385.6 L49.06 389.14 L50.59 392.52 L52.13 395.75 L53.66 398.84 L55.19 401.8 L56.72 404.63 L58.25 407.35 L59.78 409.96 L61.32 412.48 L62.85 414.89 L64.38 417.22 L65.91 419.45 L67.44 421.61 L68.97 423.68 L70.51 425.67 L72.04 427.58 L73.57 429.41 L75.1 431.17 L76.63 432.84 L78.16 434.44 L79.7 435.96 L81.23 437.39 L82.76 438.74 L84.29 440 L85.82 441.17 L87.35 442.24 L88.89 443.22 L90.42 444.1 L91.95 444.88 L93.48 445.54 L95.01 446.09 L96.54 446.53 L98.08 446.85 L99.61 447.03 L101.14 447.09 L102.67 447.02 L104.2 446.8 L105.73 446.45 L107.27 445.94 L108.8 445.29 L110.33 444.48 L111.86 443.51 L113.39 442.38 L114.92 441.09 L116.46 439.63 L117.99 438 L119.52 436.19 L121.05 434.22 L122.58 432.07 L124.11 429.74 L125.65 427.24 L127.18 424.57 L128.71 421.72 L130.24 418.7 L131.77 415.51 L133.3 412.15 L134.84 408.63 L136.37 404.95 L137.9 401.11 L139.43 397.13 L140.96 393 L142.49 388.74 L144.03 384.35 L145.56 379.85 L147.09 375.24 L148.62 370.53 L150.15 365.74 L151.68 360.88 L153.22 355.96 L154.75 351 L156.28 346.02 L157.81 341.03 L159.34 336.06 L160.87 331.11 L162.41 326.23 L163.94 321.41 L165.47 316.7 L167 312.12" fill="none" stroke="#ee2a2a" stroke-width="1.9" stroke-linejoin="round" clip-path="url(#ci)"/>
<path d="M57.5 313.71 L58.86 316.81 L60.22 319.81 L61.58 322.73 L62.94 325.55 L64.3 328.28 L65.66 330.91 L67.03 333.45 L68.39 335.9 L69.75 338.25 L71.11 340.51 L72.47 342.67 L73.83 344.74 L75.19 346.72 L76.55 348.6 L77.91 350.38 L79.27 352.07 L80.63 353.67 L81.99 355.18 L83.35 356.59 L84.72 357.9 L86.08 359.13 L87.44 360.27 L88.8 361.31 L90.16 362.26 L91.52 363.12 L92.88 363.9 L94.24 364.58 L95.6 365.18 L96.96 365.69 L98.32 366.11 L99.68 366.45 L101.04 366.71 L102.41 366.88 L103.77 366.97 L105.13 366.99 L106.49 366.92 L107.85 366.77 L109.21 366.55 L110.57 366.25 L111.93 365.88 L113.29 365.44 L114.65 364.92 L116.01 364.34 L117.37 363.69 L118.73 362.97 L120.09 362.19 L121.46 361.35 L122.82 360.44 L124.18 359.48 L125.54 358.47 L126.9 357.39 L128.26 356.27 L129.62 355.09 L130.98 353.87 L132.34 352.6 L133.7 351.29 L135.06 349.94 L136.42 348.55 L137.78 347.12 L139.15 345.66 L140.51 344.16 L141.87 342.64 L143.23 341.09 L144.59 339.52 L145.95 337.93 L147.31 336.32 L148.67 334.7 L150.03 333.06 L151.39 331.41 L152.75 329.76 L154.11 328.11 L155.47 326.45 L156.84 324.8 L158.2 323.15 L159.56 321.52 L160.92 319.9 L162.28 318.29 L163.64 316.7 L165 315.14" fill="none" stroke="#3b54ae" stroke-width="1.9" stroke-linejoin="round" clip-path="url(#ci)"/>
<path d="M94 316.15 L94.81 317.18 L95.62 318.23 L96.43 319.28 L97.24 320.34 L98.05 321.41 L98.86 322.47 L99.67 323.54 L100.48 324.6 L101.29 325.66 L102.1 326.72 L102.91 327.76 L103.72 328.8 L104.53 329.82 L105.34 330.83 L106.15 331.82 L106.96 332.79 L107.77 333.74 L108.58 334.68 L109.39 335.58 L110.2 336.47 L111.01 337.32 L111.82 338.15 L112.63 338.95 L113.44 339.72 L114.25 340.46 L115.06 341.17 L115.87 341.84 L116.68 342.47 L117.49 343.07 L118.3 343.62 L119.11 344.14 L119.92 344.62 L120.73 345.06 L121.54 345.46 L122.35 345.81 L123.16 346.12 L123.97 346.38 L124.78 346.6 L125.59 346.78 L126.41 346.9 L127.22 346.98 L128.03 347.02 L128.84 347 L129.65 346.93 L130.46 346.82 L131.27 346.66 L132.08 346.45 L132.89 346.18 L133.7 345.87 L134.51 345.51 L135.32 345.1 L136.13 344.63 L136.94 344.12 L137.75 343.56 L138.56 342.95 L139.37 342.28 L140.18 341.57 L140.99 340.81 L141.8 340 L142.61 339.14 L143.42 338.23 L144.23 337.27 L145.04 336.27 L145.85 335.22 L146.66 334.12 L147.47 332.98 L148.28 331.8 L149.09 330.57 L149.9 329.29 L150.71 327.98 L151.52 326.62 L152.33 325.22 L153.14 323.78 L153.95 322.31 L154.76 320.79 L155.57 319.24 L156.38 317.66 L157.19 316.04 L158 314.39" fill="none" stroke="#1f8a3f" stroke-width="1.9" stroke-linejoin="round" clip-path="url(#ci)"/>
<path d="M89.77 454.3 v-5 M89.77 319.51 v5" stroke="#333" stroke-width="1"/>
<path d="M131.98 454.3 v-5 M131.98 319.51 v5" stroke="#333" stroke-width="1"/>
<path d="M174.19 454.3 v-5 M174.19 319.51 v5" stroke="#333" stroke-width="1"/>
<path d="M68.66 454.3 v-2.6 M68.66 319.51 v2.6" stroke="#333" stroke-width="1"/>
<path d="M110.87 454.3 v-2.6 M110.87 319.51 v2.6" stroke="#333" stroke-width="1"/>
<path d="M153.08 454.3 v-2.6 M153.08 319.51 v2.6" stroke="#333" stroke-width="1"/>
<path d="M195.29 454.3 v-2.6 M195.29 319.51 v2.6" stroke="#333" stroke-width="1"/>
<path d="M47.56 409.37 h5 M216.4 409.37 h-5" stroke="#333" stroke-width="1"/>
<path d="M47.56 364.44 h5 M216.4 364.44 h-5" stroke="#333" stroke-width="1"/>
<path d="M47.56 431.84 h2.6 M216.4 431.84 h-2.6" stroke="#333" stroke-width="1"/>
<path d="M47.56 386.91 h2.6 M216.4 386.91 h-2.6" stroke="#333" stroke-width="1"/>
<path d="M47.56 341.98 h2.6 M216.4 341.98 h-2.6" stroke="#333" stroke-width="1"/>
<rect x="47.56" y="319.51" width="168.84" height="134.79" fill="none" stroke="#333" stroke-width="1.1"/>
<text x="115.7" y="334.6" font-size="13.3" text-anchor="start" fill="#1f8a3f" stroke="#1f8a3f" stroke-width="0.22" font-family="Liberation Sans" font-weight="normal" font-style="normal" >CW</text>
<text x="70.4" y="366.7" font-size="13.3" text-anchor="start" fill="#3d7cc4" stroke="#3d7cc4" stroke-width="0.22" font-family="Liberation Sans" font-weight="normal" font-style="normal" >B</text>
<text x="143" y="420" font-size="13.3" text-anchor="start" fill="#ee2a2a" stroke="#ee2a2a" stroke-width="0.22" font-family="Liberation Sans" font-weight="normal" font-style="normal" >CCW</text>
<text x="55.5" y="445.8" font-size="20" text-anchor="start" fill="#000" stroke="#000" stroke-width="0.1" font-family="Liberation Sans" font-weight="bold" font-style="normal" >i</text>
<text x="40.5" y="458.8" font-size="13.3" text-anchor="end" fill="#111" stroke="#111" stroke-width="0.22" font-family="Liberation Sans" font-weight="normal" font-style="normal" >0</text>
<text x="40.5" y="413.87" font-size="13.3" text-anchor="end" fill="#111" stroke="#111" stroke-width="0.22" font-family="Liberation Sans" font-weight="normal" font-style="normal" >1</text>
<text x="40.5" y="368.94" font-size="13.3" text-anchor="end" fill="#111" stroke="#111" stroke-width="0.22" font-family="Liberation Sans" font-weight="normal" font-style="normal" >2</text>
<text x="40.5" y="324.01" font-size="13.3" text-anchor="end" fill="#111" stroke="#111" stroke-width="0.22" font-family="Liberation Sans" font-weight="normal" font-style="normal" >3</text>
<text x="47.56" y="470.6" font-size="13.3" text-anchor="middle" fill="#111" stroke="#111" stroke-width="0.22" font-family="Liberation Sans" font-weight="normal" font-style="normal" >&#8722;2</text>
<text x="89.77" y="470.6" font-size="13.3" text-anchor="middle" fill="#111" stroke="#111" stroke-width="0.22" font-family="Liberation Sans" font-weight="normal" font-style="normal" >&#8722;1</text>
<text x="131.98" y="470.6" font-size="13.3" text-anchor="middle" fill="#111" stroke="#111" stroke-width="0.22" font-family="Liberation Sans" font-weight="normal" font-style="normal" >0</text>
<text x="174.19" y="470.6" font-size="13.3" text-anchor="middle" fill="#111" stroke="#111" stroke-width="0.22" font-family="Liberation Sans" font-weight="normal" font-style="normal" >1</text>
<text x="216.4" y="470.6" font-size="13.3" text-anchor="middle" fill="#111" stroke="#111" stroke-width="0.22" font-family="Liberation Sans" font-weight="normal" font-style="normal" >2</text>
<path d="M283.3 348.7 L452.5 345.5" stroke="#1f8a3f" stroke-width="2" stroke-dasharray="4.6 3.2" clip-path="url(#cj)"/>
<path d="M283.3 357.9 L452.5 350.2" stroke="#3b54ae" stroke-width="2" stroke-dasharray="4.6 3.2" clip-path="url(#cj)"/>
<path d="M283.3 426 L452.5 406.6" stroke="#ee2a2a" stroke-width="2" stroke-dasharray="4.6 3.2" clip-path="url(#cj)"/>
<path d="M283.3 348.81 L284.52 348.79 L285.74 348.77 L286.97 348.74 L288.19 348.72 L289.41 348.69 L290.63 348.67 L291.85 348.64 L293.07 348.62 L294.3 348.59 L295.52 348.57 L296.74 348.54 L297.96 348.51 L299.18 348.49 L300.4 348.46 L301.63 348.43 L302.85 348.41 L304.07 348.38 L305.29 348.35 L306.51 348.32 L307.73 348.29 L308.96 348.26 L310.18 348.23 L311.4 348.2 L312.62 348.17 L313.84 348.13 L315.07 348.1 L316.29 348.06 L317.51 348.03 L318.73 347.99 L319.95 347.95 L321.17 347.91 L322.4 347.87 L323.62 347.82 L324.84 347.77 L326.06 347.73 L327.28 347.67 L328.5 347.62 L329.73 347.56 L330.95 347.5 L332.17 347.44 L333.39 347.37 L334.61 347.3 L335.83 347.22 L337.06 347.14 L338.28 347.05 L339.5 346.95 L340.72 346.85 L341.94 346.74 L343.17 346.62 L344.39 346.49 L345.61 346.36 L346.83 346.21 L348.05 346.05 L349.27 345.87 L350.5 345.68 L351.72 345.48 L352.94 345.25 L354.16 345.01 L355.38 344.75 L356.6 344.46 L357.83 344.14 L359.05 343.8 L360.27 343.43 L361.49 343.02 L362.71 342.57 L363.93 342.09 L365.16 341.55 L366.38 340.97 L367.6 340.34" fill="none" stroke="#1f8a3f" stroke-width="1.9" stroke-linejoin="round" clip-path="url(#cj)"/>
<path d="M367.6 340.38 L368.83 341.32 L370.06 342.13 L371.29 342.82 L372.52 343.41 L373.75 343.92 L374.98 344.35 L376.21 344.73 L377.44 345.04 L378.67 345.31 L379.9 345.54 L381.13 345.73 L382.37 345.9 L383.6 346.03 L384.83 346.15 L386.06 346.24 L387.29 346.32 L388.52 346.39 L389.75 346.44 L390.98 346.49 L392.21 346.52 L393.44 346.54 L394.67 346.56 L395.9 346.58 L397.13 346.58 L398.36 346.59 L399.59 346.59 L400.82 346.58 L402.05 346.58 L403.28 346.57 L404.51 346.56 L405.74 346.55 L406.97 346.53 L408.2 346.52 L409.43 346.5 L410.67 346.48 L411.9 346.47 L413.13 346.45 L414.36 346.43 L415.59 346.41 L416.82 346.39 L418.05 346.37 L419.28 346.35 L420.51 346.32 L421.74 346.3 L422.97 346.28 L424.2 346.26 L425.43 346.24 L426.66 346.21 L427.89 346.19 L429.12 346.17 L430.35 346.15 L431.58 346.12 L432.81 346.1 L434.04 346.08 L435.27 346.05 L436.5 346.03 L437.73 346.01 L438.97 345.99 L440.2 345.96 L441.43 345.94 L442.66 345.92 L443.89 345.89 L445.12 345.87 L446.35 345.85 L447.58 345.82 L448.81 345.8 L450.04 345.78 L451.27 345.75 L452.5 345.73" fill="none" stroke="#1f8a3f" stroke-width="1.9" stroke-linejoin="round" clip-path="url(#cj)"/>
<path d="M283.3 358.89 L284.52 358.84 L285.74 358.79 L286.97 358.74 L288.19 358.69 L289.41 358.64 L290.63 358.59 L291.85 358.55 L293.07 358.5 L294.3 358.45 L295.52 358.41 L296.74 358.37 L297.96 358.32 L299.18 358.28 L300.4 358.24 L301.63 358.21 L302.85 358.17 L304.07 358.14 L305.29 358.11 L306.51 358.08 L307.73 358.05 L308.96 358.02 L310.18 358 L311.4 357.98 L312.62 357.97 L313.84 357.96 L315.07 357.95 L316.29 357.95 L317.51 357.96 L318.73 357.97 L319.95 357.98 L321.17 358.01 L322.4 358.04 L323.62 358.08 L324.84 358.13 L326.06 358.19 L327.28 358.26 L328.5 358.34 L329.73 358.44 L330.95 358.55 L332.17 358.68 L333.39 358.82 L334.61 358.99 L335.83 359.17 L337.06 359.39 L338.28 359.62 L339.5 359.89 L340.72 360.18 L341.94 360.51 L343.17 360.88 L344.39 361.29 L345.61 361.74 L346.83 362.25 L348.05 362.81 L349.27 363.43 L350.5 364.11 L351.72 364.87 L352.94 365.71 L354.16 366.63 L355.38 367.65 L356.6 368.77 L357.83 370.01 L359.05 371.38 L360.27 372.88 L361.49 374.54 L362.71 376.37 L363.93 378.37 L365.16 380.58 L366.38 383.01 L367.6 385.68" fill="none" stroke="#3b54ae" stroke-width="1.9" stroke-linejoin="round" clip-path="url(#cj)"/>
<path d="M367.6 385.97 L368.83 382.14 L370.06 378.77 L371.29 375.8 L372.52 373.2 L373.75 370.91 L374.98 368.9 L376.21 367.13 L377.44 365.57 L378.67 364.19 L379.9 362.98 L381.13 361.91 L382.37 360.97 L383.6 360.13 L384.83 359.4 L386.06 358.74 L387.29 358.16 L388.52 357.65 L389.75 357.19 L390.98 356.78 L392.21 356.41 L393.44 356.09 L394.67 355.79 L395.9 355.53 L397.13 355.29 L398.36 355.07 L399.59 354.88 L400.82 354.7 L402.05 354.53 L403.28 354.38 L404.51 354.24 L405.74 354.11 L406.97 354 L408.2 353.88 L409.43 353.78 L410.67 353.68 L411.9 353.59 L413.13 353.5 L414.36 353.41 L415.59 353.33 L416.82 353.25 L418.05 353.18 L419.28 353.1 L420.51 353.03 L421.74 352.96 L422.97 352.9 L424.2 352.83 L425.43 352.77 L426.66 352.7 L427.89 352.64 L429.12 352.58 L430.35 352.52 L431.58 352.46 L432.81 352.4 L434.04 352.34 L435.27 352.28 L436.5 352.22 L437.73 352.16 L438.97 352.1 L440.2 352.04 L441.43 351.99 L442.66 351.93 L443.89 351.87 L445.12 351.81 L446.35 351.76 L447.58 351.7 L448.81 351.64 L450.04 351.59 L451.27 351.53 L452.5 351.47" fill="none" stroke="#3b54ae" stroke-width="1.9" stroke-linejoin="round" clip-path="url(#cj)"/>
<path d="M367.6 398.64 L368.83 400.35 L370.06 401.86 L371.29 403.18 L372.52 404.33 L373.75 405.34 L374.98 406.22 L376.21 406.99 L377.44 407.65 L378.67 408.23 L379.9 408.72 L381.13 409.14 L382.37 409.5 L383.6 409.8 L384.83 410.06 L386.06 410.27 L387.29 410.43 L388.52 410.57 L389.75 410.67 L390.98 410.75 L392.21 410.8 L393.44 410.83 L394.67 410.84 L395.9 410.83 L397.13 410.81 L398.36 410.77 L399.59 410.73 L400.82 410.67 L402.05 410.6 L403.28 410.53 L404.51 410.44 L405.74 410.35 L406.97 410.26 L408.2 410.16 L409.43 410.05 L410.67 409.94 L411.9 409.83 L413.13 409.71 L414.36 409.59 L415.59 409.47 L416.82 409.35 L418.05 409.22 L419.28 409.09 L420.51 408.97 L421.74 408.83 L422.97 408.7 L424.2 408.57 L425.43 408.44 L426.66 408.3 L427.89 408.16 L429.12 408.03 L430.35 407.89 L431.58 407.75 L432.81 407.62 L434.04 407.48 L435.27 407.34 L436.5 407.2 L437.73 407.06 L438.97 406.92 L440.2 406.78 L441.43 406.64 L442.66 406.5 L443.89 406.36 L445.12 406.22 L446.35 406.08 L447.58 405.94 L448.81 405.8 L450.04 405.66 L451.27 405.51 L452.5 405.37" fill="none" stroke="#ee2a2a" stroke-width="1.9" stroke-linejoin="round" clip-path="url(#cj)"/>
<path d="M283.3 425.51 L284.73 425.32 L286.16 425.14 L287.59 424.95 L289.02 424.76 L290.44 424.57 L291.87 424.38 L293.3 424.19 L294.73 424 L296.16 423.8 L297.59 423.61 L299.02 423.41 L300.45 423.21 L301.87 423.01 L303.3 422.81 L304.73 422.6 L306.16 422.4 L307.59 422.19 L309.02 421.97 L310.45 421.76 L311.88 421.54 L313.31 421.32 L314.73 421.1 L316.16 420.87 L317.59 420.64 L319.02 420.4 L320.45 420.16 L321.88 419.91 L323.31 419.66 L324.74 419.4 L326.16 419.14 L327.59 418.87 L329.02 418.59 L330.45 418.3 L331.88 418 L333.31 417.69 L334.74 417.37 L336.17 417.04 L337.59 416.69 L339.02 416.32 L340.45 415.94 L341.88 415.54 L343.31 415.12 L344.74 414.67 L346.17 414.19 L347.6 413.68 L349.03 413.13 L350.45 412.55 L351.88 411.91 L353.31 411.22 L354.74 410.47 L356.17 409.64 L357.6 408.73 L359.03 407.72 L360.46 406.59 L361.88 405.32 L363.31 403.88 L364.74 402.25 L366.17 400.36 L367.6 398.18" fill="none" stroke="#ee2a2a" stroke-width="1.9" stroke-linejoin="round" clip-path="url(#cj)"/>
<circle cx="367.6" cy="340.5" r="2.6" fill="#1f8a3f"/>
<circle cx="367.6" cy="385.6" r="2.8" fill="#3b64b8"/>
<circle cx="367.6" cy="398.5" r="2.8" fill="#ee2a2a"/>
<path d="M367.9 455.5 v-5 M367.9 320.3 v5" stroke="#333" stroke-width="1"/>
<path d="M325.6 455.5 v-2.6 M325.6 320.3 v2.6" stroke="#333" stroke-width="1"/>
<path d="M410.2 455.5 v-2.6 M410.2 320.3 v2.6" stroke="#333" stroke-width="1"/>
<path d="M283.3 410.43 h5 M452.5 410.43 h-5" stroke="#333" stroke-width="1"/>
<path d="M283.3 365.36 h5 M452.5 365.36 h-5" stroke="#333" stroke-width="1"/>
<path d="M283.3 432.96 h2.6 M452.5 432.96 h-2.6" stroke="#333" stroke-width="1"/>
<path d="M283.3 387.89 h2.6 M452.5 387.89 h-2.6" stroke="#333" stroke-width="1"/>
<path d="M283.3 342.82 h2.6 M452.5 342.82 h-2.6" stroke="#333" stroke-width="1"/>
<rect x="283.3" y="320.3" width="169.2" height="135.2" fill="none" stroke="#333" stroke-width="1.1"/>
<text x="404.6" y="339.8" font-size="13.3" text-anchor="start" fill="#1f8a3f" stroke="#1f8a3f" stroke-width="0.22" font-family="Liberation Sans" font-weight="normal" font-style="normal" >CW</text>
<text x="410.7" y="371.7" font-size="13.3" text-anchor="start" fill="#3d7cc4" stroke="#3d7cc4" stroke-width="0.22" font-family="Liberation Sans" font-weight="normal" font-style="normal" >B</text>
<text x="399.7" y="426.6" font-size="13.3" text-anchor="start" fill="#ee2a2a" stroke="#ee2a2a" stroke-width="0.22" font-family="Liberation Sans" font-weight="normal" font-style="normal" >CCW</text>
<text x="293.9" y="445.8" font-size="20" text-anchor="start" fill="#000" stroke="#000" stroke-width="0.1" font-family="Liberation Sans" font-weight="bold" font-style="normal" >j</text>
<text x="276.8" y="460" font-size="13.3" text-anchor="end" fill="#111" stroke="#111" stroke-width="0.22" font-family="Liberation Sans" font-weight="normal" font-style="normal" >0</text>
<text x="276.8" y="414.93" font-size="13.3" text-anchor="end" fill="#111" stroke="#111" stroke-width="0.22" font-family="Liberation Sans" font-weight="normal" font-style="normal" >1</text>
<text x="276.8" y="369.86" font-size="13.3" text-anchor="end" fill="#111" stroke="#111" stroke-width="0.22" font-family="Liberation Sans" font-weight="normal" font-style="normal" >2</text>
<text x="276.8" y="324.79" font-size="13.3" text-anchor="end" fill="#111" stroke="#111" stroke-width="0.22" font-family="Liberation Sans" font-weight="normal" font-style="normal" >3</text>
<text x="283.3" y="471.8" font-size="13.3" text-anchor="middle" fill="#111" stroke="#111" stroke-width="0.22" font-family="Liberation Sans" font-weight="normal" font-style="normal" >&#8722;0.1</text>
<text x="367.9" y="471.8" font-size="13.3" text-anchor="middle" fill="#111" stroke="#111" stroke-width="0.22" font-family="Liberation Sans" font-weight="normal" font-style="normal" >0</text>
<text x="452.5" y="471.8" font-size="13.3" text-anchor="middle" fill="#111" stroke="#111" stroke-width="0.22" font-family="Liberation Sans" font-weight="normal" font-style="normal" >0.1</text>
<path d="M535.7 415.5 L672.4 398.6" stroke="#ee2a2a" stroke-width="2" stroke-dasharray="4.6 3.2" clip-path="url(#ck)"/>
<path d="M534 405.61 L535.18 405.31 L536.36 404.98 L537.54 404.63 L538.73 404.25 L539.91 403.86 L541.09 403.45 L542.27 403.03 L543.45 402.59 L544.63 402.14 L545.81 401.69 L546.99 401.22 L548.18 400.75 L549.36 400.28 L550.54 399.8 L551.72 399.31 L552.9 398.82 L554.08 398.33 L555.26 397.84 L556.45 397.35 L557.63 396.85 L558.81 396.35 L559.99 395.84 L561.17 395.33 L562.35 394.81 L563.53 394.29 L564.72 393.76 L565.9 393.22 L567.08 392.67 L568.26 392.1 L569.44 391.52 L570.62 390.93 L571.8 390.31 L572.98 389.67 L574.17 389.01 L575.35 388.32 L576.53 387.6 L577.71 386.84 L578.89 386.05 L580.07 385.22 L581.25 384.34 L582.44 383.42 L583.62 382.44 L584.8 381.4 L585.98 380.3 L587.16 379.14 L588.34 377.91 L589.52 376.59 L590.71 375.2 L591.89 373.72 L593.07 372.15 L594.25 370.48 L595.43 368.71 L596.61 366.82 L597.79 364.82 L598.97 362.7 L600.16 360.44 L601.34 358.05 L602.52 355.52 L603.7 352.84 L603.7 352.6" fill="none" stroke="#ee2a2a" stroke-width="1.9" stroke-linejoin="round" clip-path="url(#ck)"/>
<path d="M603.7 352.6 L603.7 352.59 L604.89 354.46 L606.08 356.27 L607.27 358 L608.47 359.67 L609.66 361.26 L610.85 362.8 L612.04 364.26 L613.23 365.67 L614.42 367.01 L615.62 368.3 L616.81 369.52 L618 370.69 L619.19 371.8 L620.38 372.86 L621.57 373.87 L622.76 374.83 L623.96 375.73 L625.15 376.59 L626.34 377.4 L627.53 378.17 L628.72 378.89 L629.91 379.57 L631.11 380.21 L632.3 380.81 L633.49 381.37 L634.68 381.89 L635.87 382.38 L637.06 382.84 L638.25 383.26 L639.45 383.65 L640.64 384.02 L641.83 384.35 L643.02 384.66 L644.21 384.95 L645.4 385.21 L646.59 385.44 L647.79 385.66 L648.98 385.86 L650.17 386.04 L651.36 386.21 L652.55 386.36 L653.74 386.5 L654.94 386.62 L656.13 386.74 L657.32 386.84 L658.51 386.94 L659.7 387.03 L660.89 387.12 L662.08 387.2 L663.28 387.29 L664.47 387.37 L665.66 387.45 L666.85 387.54 L668.04 387.63 L669.23 387.73 L670.43 387.83 L671.62 387.94 L672.81 388.06 L674 388.2" fill="none" stroke="#ee2a2a" stroke-width="1.9" stroke-linejoin="round" clip-path="url(#ck)"/>
<path d="M591.5 322.8 V455.9 M616.9 322.8 V455.9" stroke="#111" stroke-width="1.25" stroke-dasharray="1.25 1.28"/>
<path d="M593 375 H639.2 M618 369.7 H639.2" stroke="#111" stroke-width="1.2" stroke-dasharray="1.25 1.28"/>
<circle cx="591.5" cy="375" r="3.3" fill="#2e6fc0"/>
<circle cx="603.7" cy="352.5" r="2.5" fill="#ee2a2a"/>
<circle cx="616.7" cy="369.7" r="3.3" fill="#c83a30"/>
<path d="M633.8 345.4 V362" stroke="#000" stroke-width="1.6"/>
<path d="M633.8 369.7 L629.8 360.9 L637.8 360.9 Z" fill="#000"/>
<path d="M633.8 401 V383" stroke="#000" stroke-width="1.6"/>
<path d="M633.8 375 L629.8 383.4 L637.8 383.4 Z" fill="#000"/>
<text x="642" y="377" font-size="14" text-anchor="start" fill="#111" stroke="#111" stroke-width="0.22" font-family="Liberation Serif" font-weight="normal" font-style="normal" >&#916;<tspan font-style="italic">&#957;</tspan></text>
<path d="M604.05 455.9 v-5 M604.05 320.2 v5" stroke="#333" stroke-width="1"/>
<path d="M558.48 455.9 v-2.6 M558.48 320.2 v2.6" stroke="#333" stroke-width="1"/>
<path d="M581.27 455.9 v-2.6 M581.27 320.2 v2.6" stroke="#333" stroke-width="1"/>
<path d="M626.83 455.9 v-2.6 M626.83 320.2 v2.6" stroke="#333" stroke-width="1"/>
<path d="M649.62 455.9 v-2.6 M649.62 320.2 v2.6" stroke="#333" stroke-width="1"/>
<path d="M535.7 442.33 h5 M672.4 442.33 h-5" stroke="#333" stroke-width="1"/>
<path d="M535.7 415.19 h5 M672.4 415.19 h-5" stroke="#333" stroke-width="1"/>
<path d="M535.7 388.05 h5 M672.4 388.05 h-5" stroke="#333" stroke-width="1"/>
<path d="M535.7 360.91 h5 M672.4 360.91 h-5" stroke="#333" stroke-width="1"/>
<path d="M535.7 333.77 h5 M672.4 333.77 h-5" stroke="#333" stroke-width="1"/>
<path d="M535.7 428.76 h2.6 M672.4 428.76 h-2.6" stroke="#333" stroke-width="1"/>
<path d="M535.7 401.62 h2.6 M672.4 401.62 h-2.6" stroke="#333" stroke-width="1"/>
<path d="M535.7 374.48 h2.6 M672.4 374.48 h-2.6" stroke="#333" stroke-width="1"/>
<path d="M535.7 347.34 h2.6 M672.4 347.34 h-2.6" stroke="#333" stroke-width="1"/>
<rect x="535.7" y="320.2" width="136.7" height="135.7" fill="none" stroke="#333" stroke-width="1.1"/>
<text x="628.7" y="420.1" font-size="13.3" text-anchor="start" fill="#ee2a2a" stroke="#ee2a2a" stroke-width="0.22" font-family="Liberation Sans" font-weight="normal" font-style="normal" >CCW</text>
<text x="545.8" y="445.9" font-size="20" text-anchor="start" fill="#000" stroke="#000" stroke-width="0.1" font-family="Liberation Sans" font-weight="bold" font-style="normal" >k</text>
<text x="528.8" y="446.83" font-size="13.3" text-anchor="end" fill="#111" stroke="#111" stroke-width="0.22" font-family="Liberation Sans" font-weight="normal" font-style="normal" >0.6</text>
<text x="528.8" y="419.69" font-size="13.3" text-anchor="end" fill="#111" stroke="#111" stroke-width="0.22" font-family="Liberation Sans" font-weight="normal" font-style="normal" >0.8</text>
<text x="528.8" y="392.55" font-size="13.3" text-anchor="end" fill="#111" stroke="#111" stroke-width="0.22" font-family="Liberation Sans" font-weight="normal" font-style="normal" >1</text>
<text x="528.8" y="365.41" font-size="13.3" text-anchor="end" fill="#111" stroke="#111" stroke-width="0.22" font-family="Liberation Sans" font-weight="normal" font-style="normal" >1.2</text>
<text x="528.8" y="338.27" font-size="13.3" text-anchor="end" fill="#111" stroke="#111" stroke-width="0.22" font-family="Liberation Sans" font-weight="normal" font-style="normal" >1.4</text>
<text x="535.7" y="471.8" font-size="13.3" text-anchor="middle" fill="#111" stroke="#111" stroke-width="0.22" font-family="Liberation Sans" font-weight="normal" font-style="normal" >&#8722;0.03</text>
<text x="604.05" y="471.8" font-size="13.3" text-anchor="middle" fill="#111" stroke="#111" stroke-width="0.22" font-family="Liberation Sans" font-weight="normal" font-style="normal" >0</text>
<text x="672.4" y="471.8" font-size="13.3" text-anchor="middle" fill="#111" stroke="#111" stroke-width="0.22" font-family="Liberation Sans" font-weight="normal" font-style="normal" >0.03</text>
<text x="0" y="0" font-size="13.3" text-anchor="middle" fill="#111" stroke="#111" stroke-width="0.22" font-family="Liberation Sans" transform="translate(18.9 386.5) rotate(-90)"><tspan font-style="italic">h&#957;</tspan>/(<tspan font-style="italic">g&#956;</tspan><tspan font-size="9.5" dy="2.5">0</tspan><tspan font-style="italic" dy="-2.5">&#956;</tspan><tspan font-size="9.5" dy="2.5">B</tspan><tspan font-style="italic" dy="-2.5">H</tspan><tspan font-size="9.5" dy="2.5">c</tspan><tspan dy="-2.5">)</tspan></text>
<text x="0" y="0" font-size="13.3" text-anchor="middle" fill="#111" stroke="#111" stroke-width="0.22" font-family="Liberation Sans" transform="translate(255.1 386.2) rotate(-90)"><tspan font-style="italic">h&#957;</tspan>/(<tspan font-style="italic">g&#956;</tspan><tspan font-size="9.5" dy="2.5">0</tspan><tspan font-style="italic" dy="-2.5">&#956;</tspan><tspan font-size="9.5" dy="2.5">B</tspan><tspan font-style="italic" dy="-2.5">H</tspan><tspan font-size="9.5" dy="2.5">c</tspan><tspan dy="-2.5">)</tspan></text>
<text x="0" y="0" font-size="13.3" text-anchor="middle" fill="#111" stroke="#111" stroke-width="0.22" font-family="Liberation Sans" transform="translate(497.2 388) rotate(-90)"><tspan font-style="italic">h&#957;</tspan>/(<tspan font-style="italic">g&#956;</tspan><tspan font-size="9.5" dy="2.5">0</tspan><tspan font-style="italic" dy="-2.5">&#956;</tspan><tspan font-size="9.5" dy="2.5">B</tspan><tspan font-style="italic" dy="-2.5">H</tspan><tspan font-size="9.5" dy="2.5">c</tspan><tspan dy="-2.5">)</tspan></text>
<text x="132" y="493.8" font-size="13.3" text-anchor="middle" fill="#111" stroke="#111" stroke-width="0.22" font-family="Liberation Sans" font-weight="normal" font-style="normal" ><tspan font-style="italic">k</tspan><tspan font-size="9.5" dy="-5">SW</tspan><tspan dy="5">/</tspan><tspan font-style="italic">q</tspan><tspan font-size="9.5" dy="2.5">0</tspan></text>
<text x="368.4" y="493.7" font-size="13.3" text-anchor="middle" fill="#111" stroke="#111" stroke-width="0.22" font-family="Liberation Sans" font-weight="normal" font-style="normal" ><tspan font-style="italic">k</tspan><tspan font-size="9.5" dy="-5">SW</tspan><tspan dy="5">/</tspan><tspan font-style="italic">q</tspan><tspan font-size="9.5" dy="2.5">0</tspan></text>
<text x="604.4" y="493.5" font-size="13.3" text-anchor="middle" fill="#111" stroke="#111" stroke-width="0.22" font-family="Liberation Sans" font-weight="normal" font-style="normal" ><tspan font-style="italic">k</tspan><tspan font-size="9.5" dy="-5">SW</tspan><tspan dy="5">/</tspan><tspan font-style="italic">q</tspan><tspan font-size="9.5" dy="2.5">0</tspan></text>
<rect x="563.5" y="36.4" width="18.5" height="4.6" fill="#f2cf2c" stroke="#3a3a1a" stroke-width="0.8"/>
<rect x="620.7" y="36.4" width="19" height="4.6" fill="#f2cf2c" stroke="#3a3a1a" stroke-width="0.8"/>
<rect x="563.5" y="44.1" width="18.5" height="4.7" fill="#f2cf2c" stroke="#3a3a1a" stroke-width="0.8"/>
<rect x="620.7" y="44.1" width="19" height="4.7" fill="#f2cf2c" stroke="#3a3a1a" stroke-width="0.8"/>
<rect x="563.5" y="51.4" width="18.5" height="4.9" fill="#f2cf2c" stroke="#3a3a1a" stroke-width="0.8"/>
<rect x="620.7" y="51.4" width="19" height="4.9" fill="#f2cf2c" stroke="#3a3a1a" stroke-width="0.8"/>
<rect x="563.5" y="99" width="18.5" height="4.5" fill="#f2cf2c" stroke="#3a3a1a" stroke-width="0.8"/>
<rect x="620.7" y="99" width="19" height="4.5" fill="#f2cf2c" stroke="#3a3a1a" stroke-width="0.8"/>
<rect x="563.5" y="106.6" width="18.5" height="4.5" fill="#f2cf2c" stroke="#3a3a1a" stroke-width="0.8"/>
<rect x="620.7" y="106.6" width="19" height="4.5" fill="#f2cf2c" stroke="#3a3a1a" stroke-width="0.8"/>
<rect x="563.5" y="114.1" width="18.5" height="4.7" fill="#f2cf2c" stroke="#3a3a1a" stroke-width="0.8"/>
<rect x="620.7" y="114.1" width="19" height="4.7" fill="#f2cf2c" stroke="#3a3a1a" stroke-width="0.8"/>
<rect x="580.9" y="5.3" width="40.7" height="140.1" fill="#9fcb3c" stroke="#3c4a2a" stroke-width="1"/>
<text x="555" y="19.6" font-size="19" text-anchor="start" fill="#000" stroke="#000" stroke-width="0.1" font-family="Liberation Sans" font-weight="bold" font-style="normal" >d</text>
<path d="M592.2 103.8 V50" stroke="#d42a2a" stroke-width="3"/>
<path d="M592.2 40.3 L585.8 53.2 L598.6 53.2 Z" fill="#d42a2a"/>
<path d="M609.9 52.4 V107" stroke="#2e6fc0" stroke-width="2" stroke-dasharray="2 2.2"/>
<path d="M609.8 115.3 L606.2 107 L613.4 107 Z" fill="#2e6fc0"/>
<path d="M596.2 75.75 H606.5 M596.2 80.35 H606.5" stroke="#000" stroke-width="2.2"/>
<path d="M604.2 71.6 L598.4 84.8" stroke="#000" stroke-width="2.2" stroke-linecap="round"/>
<text x="585.9" y="30.9" font-size="15" text-anchor="start" fill="#d42a2a" stroke="#d42a2a" stroke-width="0.22" font-family="Liberation Sans" font-weight="normal" font-style="normal" >+<tspan font-style="italic">k</tspan><tspan font-size="11" dy="-5.3" dx="2.3">sw</tspan></text>
<text x="582.6" y="137.3" font-size="15" text-anchor="start" fill="#2e6fc0" stroke="#2e6fc0" stroke-width="0.22" font-family="Liberation Sans" font-weight="normal" font-style="normal" >&#8722;<tspan font-style="italic">k</tspan><tspan font-size="11" dy="-5.3" dx="2.3">sw</tspan></text>
<text x="566.7" y="132.3" font-size="13.3" text-anchor="start" fill="#111" stroke="#111" stroke-width="0.22" font-family="Liberation Sans" font-weight="normal" font-style="normal" >1</text>
<text x="630.6" y="32.1" font-size="13.3" text-anchor="start" fill="#111" stroke="#111" stroke-width="0.22" font-family="Liberation Sans" font-weight="normal" font-style="normal" >2</text>
<path d="M632.9 64.2 L641.4 75.2 L637.1 75.2 L637.1 87.3 L628.7 87.3 L628.7 75.2 L624.2 75.2 Z" fill="#f27b7b" stroke="#111" stroke-width="1.1" stroke-linejoin="miter"/>
<text x="646.3" y="81.9" font-size="16.2" text-anchor="start" fill="#d42a2a" stroke="#d42a2a" stroke-width="0.22" font-family="Liberation Sans" font-weight="normal" font-style="normal" >+<tspan font-style="italic">H</tspan></text>
<rect x="563.5" y="189.5" width="18.5" height="4.6" fill="#f2cf2c" stroke="#3a3a1a" stroke-width="0.8"/>
<rect x="620.7" y="189.5" width="19" height="4.6" fill="#f2cf2c" stroke="#3a3a1a" stroke-width="0.8"/>
<rect x="563.5" y="197.3" width="18.5" height="4.5" fill="#f2cf2c" stroke="#3a3a1a" stroke-width="0.8"/>
<rect x="620.7" y="197.3" width="19" height="4.5" fill="#f2cf2c" stroke="#3a3a1a" stroke-width="0.8"/>
<rect x="563.5" y="204.7" width="18.5" height="4.6" fill="#f2cf2c" stroke="#3a3a1a" stroke-width="0.8"/>
<rect x="620.7" y="204.7" width="19" height="4.6" fill="#f2cf2c" stroke="#3a3a1a" stroke-width="0.8"/>
<rect x="563.5" y="252.1" width="18.5" height="4.5" fill="#f2cf2c" stroke="#3a3a1a" stroke-width="0.8"/>
<rect x="620.7" y="252.1" width="19" height="4.5" fill="#f2cf2c" stroke="#3a3a1a" stroke-width="0.8"/>
<rect x="563.5" y="259.6" width="18.5" height="4.8" fill="#f2cf2c" stroke="#3a3a1a" stroke-width="0.8"/>
<rect x="620.7" y="259.6" width="19" height="4.8" fill="#f2cf2c" stroke="#3a3a1a" stroke-width="0.8"/>
<rect x="563.5" y="267.3" width="18.5" height="4.6" fill="#f2cf2c" stroke="#3a3a1a" stroke-width="0.8"/>
<rect x="620.7" y="267.3" width="19" height="4.6" fill="#f2cf2c" stroke="#3a3a1a" stroke-width="0.8"/>
<rect x="580.9" y="158.2" width="40.7" height="140.5" fill="#9fcb3c" stroke="#3c4a2a" stroke-width="1"/>
<text x="555" y="175.1" font-size="19" text-anchor="start" fill="#000" stroke="#000" stroke-width="0.1" font-family="Liberation Sans" font-weight="bold" font-style="normal" >h</text>
<path d="M592.2 256.7 V201" stroke="#d42a2a" stroke-width="2" stroke-dasharray="2 2.5"/>
<path d="M592.3 193.2 L588.7 201.6 L596 201.6 Z" fill="#d42a2a"/>
<path d="M610 205.1 V258" stroke="#2e6fc0" stroke-width="3.2"/>
<path d="M610 268.2 L603.2 256.1 L616.8 256.1 Z" fill="#2e6fc0"/>
<path d="M596.4 227.9 H606.7 M596.4 232.5 H606.7" stroke="#000" stroke-width="2.2"/>
<path d="M604.4 223.7 L598.6 237.0" stroke="#000" stroke-width="2.2" stroke-linecap="round"/>
<text x="586.3" y="184.2" font-size="15" text-anchor="start" fill="#d42a2a" stroke="#d42a2a" stroke-width="0.22" font-family="Liberation Sans" font-weight="normal" font-style="normal" >+<tspan font-style="italic">k</tspan><tspan font-size="11" dy="-5.3" dx="2.3">sw</tspan></text>
<text x="583.1" y="290.7" font-size="15" text-anchor="start" fill="#2e6fc0" stroke="#2e6fc0" stroke-width="0.22" font-family="Liberation Sans" font-weight="normal" font-style="normal" >&#8722;<tspan font-style="italic">k</tspan><tspan font-size="11" dy="-5.3" dx="2.3">sw</tspan></text>
<text x="567.2" y="285.9" font-size="13.3" text-anchor="start" fill="#111" stroke="#111" stroke-width="0.22" font-family="Liberation Sans" font-weight="normal" font-style="normal" >1</text>
<text x="630.6" y="185.9" font-size="13.3" text-anchor="start" fill="#111" stroke="#111" stroke-width="0.22" font-family="Liberation Sans" font-weight="normal" font-style="normal" >2</text>
<path d="M633 240.2 L641.6 230.5 L636.9 230.5 L636.9 217.6 L629.1 217.6 L629.1 230.5 L624.4 230.5 Z" fill="#f27b7b" stroke="#111" stroke-width="1.1" stroke-linejoin="miter"/>
<text x="645.7" y="234.6" font-size="16.2" text-anchor="start" fill="#d42a2a" stroke="#d42a2a" stroke-width="0.22" font-family="Liberation Sans" font-weight="normal" font-style="normal" >&#8722;<tspan font-style="italic">H</tspan></text>
</svg>
</body></html>
